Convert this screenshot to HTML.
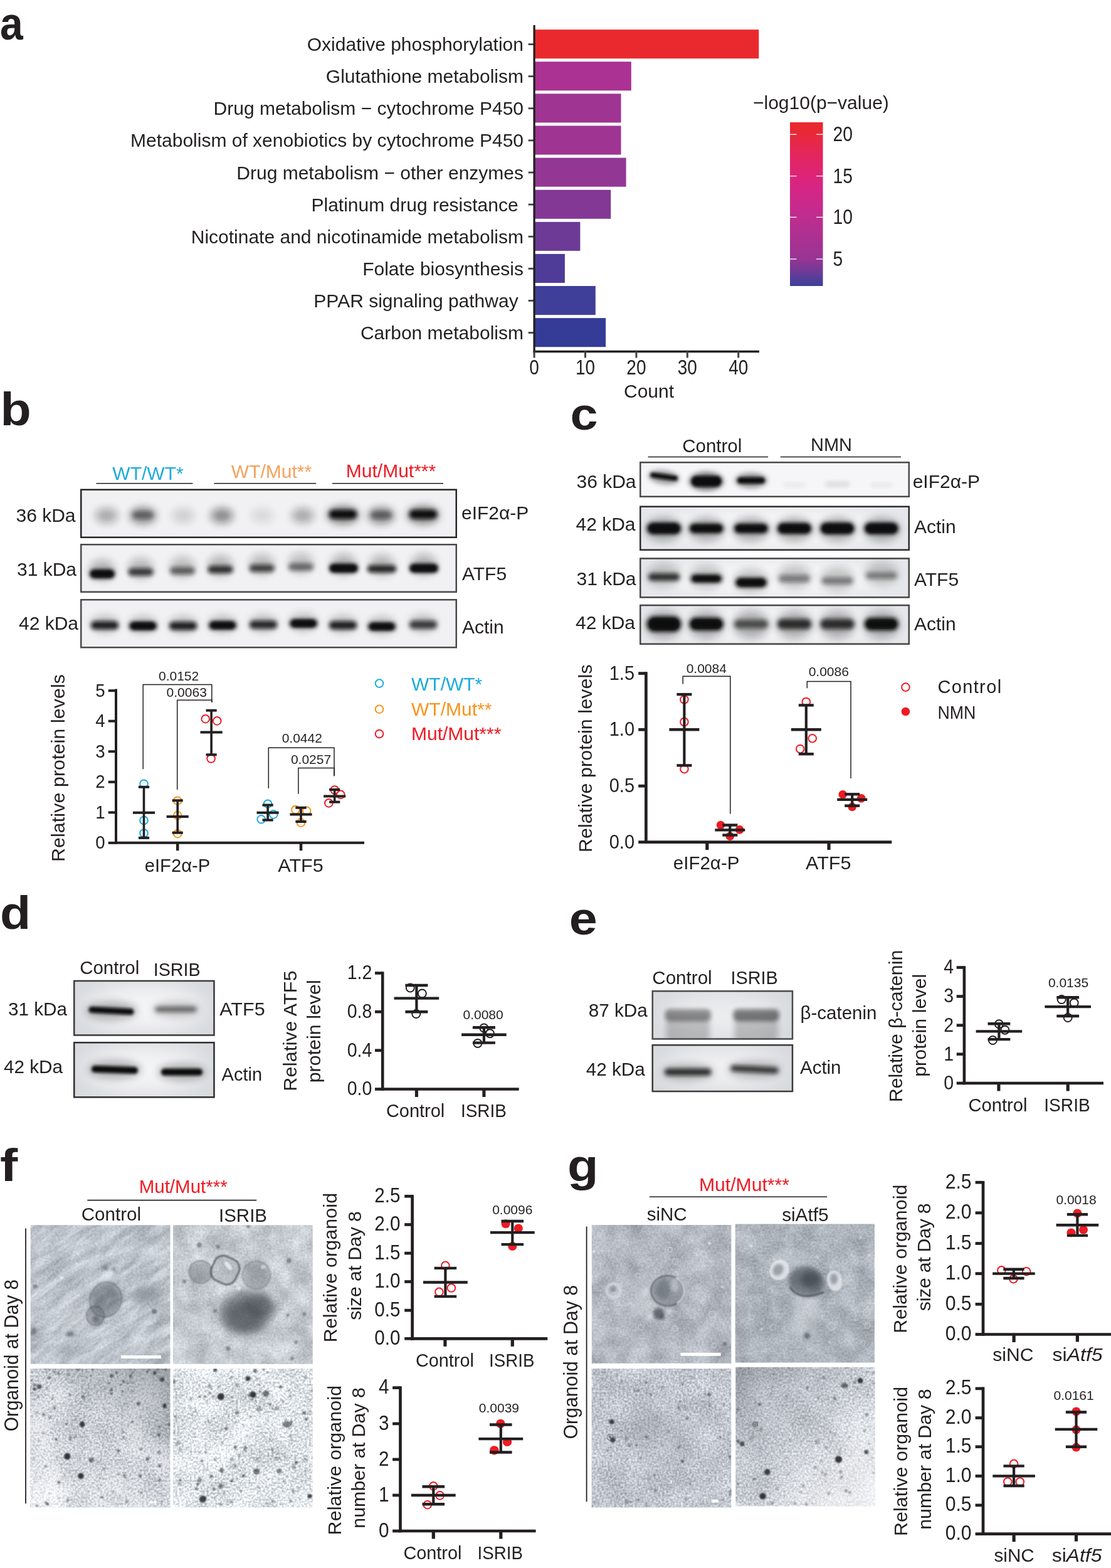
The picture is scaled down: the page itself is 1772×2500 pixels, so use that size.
<!DOCTYPE html>
<html lang="en"><head><meta charset="utf-8"><title>Figure</title>
<style>
html,body{margin:0;padding:0;background:#fff;}
body{width:1772px;height:2500px;overflow:hidden;}
svg{display:block;font-family:"Liberation Sans",sans-serif;fill:#231f20;stroke:#231f20;}
svg text{stroke:none;}
</style></head><body>
<svg width="1772" height="2500" viewBox="0 0 1772 2500">
<defs>
<linearGradient id="cb" x1="0" y1="1" x2="0" y2="0">
<stop offset="0" stop-color="#3a419a"/>
<stop offset="0.06" stop-color="#5d3c98"/>
<stop offset="0.163" stop-color="#973593"/>
<stop offset="0.42" stop-color="#be2d8f"/>
<stop offset="0.6" stop-color="#d62585"/>
<stop offset="0.67" stop-color="#dd2478"/>
<stop offset="0.8" stop-color="#e3265e"/>
<stop offset="0.925" stop-color="#e8283a"/>
<stop offset="1" stop-color="#e9292d"/>
</linearGradient>
<filter id="bl05" x="-5%" y="-20%" width="110%" height="140%"><feGaussianBlur stdDeviation="0.6"/></filter>
<filter id="bl08" x="-50%" y="-50%" width="200%" height="200%"><feGaussianBlur stdDeviation="0.9"/></filter>
<filter id="bl1" x="-50%" y="-50%" width="200%" height="200%"><feGaussianBlur stdDeviation="1.2"/></filter>
<filter id="bl2" x="-50%" y="-80%" width="200%" height="260%"><feGaussianBlur stdDeviation="2.2"/></filter>
<filter id="bl3" x="-50%" y="-80%" width="200%" height="260%"><feGaussianBlur stdDeviation="3.2"/></filter>
<filter id="bl4" x="-50%" y="-80%" width="200%" height="260%"><feGaussianBlur stdDeviation="4.5"/></filter>
<filter id="bl6" x="-60%" y="-100%" width="220%" height="300%"><feGaussianBlur stdDeviation="6.5"/></filter>
<filter id="bl9" x="-80%" y="-100%" width="260%" height="300%"><feGaussianBlur stdDeviation="10"/></filter>
<filter id="bl15" x="-100%" y="-100%" width="300%" height="300%"><feGaussianBlur stdDeviation="16"/></filter>
<linearGradient id="gf3" x1="0.85" y1="0" x2="0.15" y2="1">
<stop offset="0" stop-color="#6a7078" stop-opacity="0.5"/><stop offset="0.45" stop-color="#6f757d" stop-opacity="0.12"/><stop offset="1" stop-color="#ffffff" stop-opacity="0.3"/></linearGradient>
<linearGradient id="gg4" x1="0" y1="0" x2="1" y2="1">
<stop offset="0" stop-color="#50565e" stop-opacity="0.42"/><stop offset="0.45" stop-color="#7f858d" stop-opacity="0.12"/><stop offset="0.6" stop-color="#ffffff" stop-opacity="0.15"/><stop offset="1" stop-color="#ffffff" stop-opacity="0.7"/></linearGradient>
</defs>

<defs><filter id="nzf1" x="0" y="0" width="100%" height="100%" color-interpolation-filters="sRGB"><feTurbulence type="fractalNoise" baseFrequency="0.02 0.08" numOctaves="3" seed="3"/><feColorMatrix type="matrix" values="0.32 0 0 0 0.34 0.32 0 0 0 0.34 0.32 0 0 0 0.34 0 0 0 0 1" result="n0"/><feColorMatrix type="matrix" values="1 0 0 0 0 0 1 0 0 0 0 0 1 0 0 0 0 0 0 1" result="s0"/><feTurbulence type="fractalNoise" baseFrequency="0.3" numOctaves="2" seed="9"/><feColorMatrix type="matrix" values="0.2 0 0 0 0.4 0.2 0 0 0 0.4 0.2 0 0 0 0.4 0 0 0 0 1" result="n1"/><feComposite in="s0" in2="n1" operator="arithmetic" k1="0" k2="1" k3="1" k4="-0.5" result="s1"/><feColorMatrix type="matrix" values="1 0 0 0 0.241 1 0 0 0 0.265 1 0 0 0 0.292 0 0 0 0 1"/></filter><filter id="nzf2" x="0" y="0" width="100%" height="100%" color-interpolation-filters="sRGB"><feTurbulence type="fractalNoise" baseFrequency="0.03" numOctaves="3" seed="8"/><feColorMatrix type="matrix" values="0.28 0 0 0 0.36 0.28 0 0 0 0.36 0.28 0 0 0 0.36 0 0 0 0 1" result="n0"/><feColorMatrix type="matrix" values="1 0 0 0 0 0 1 0 0 0 0 0 1 0 0 0 0 0 0 1" result="s0"/><feTurbulence type="fractalNoise" baseFrequency="0.3" numOctaves="2" seed="14"/><feColorMatrix type="matrix" values="0.2 0 0 0 0.4 0.2 0 0 0 0.4 0.2 0 0 0 0.4 0 0 0 0 1" result="n1"/><feComposite in="s0" in2="n1" operator="arithmetic" k1="0" k2="1" k3="1" k4="-0.5" result="s1"/><feColorMatrix type="matrix" values="1 0 0 0 0.273 1 0 0 0 0.292 1 0 0 0 0.316 0 0 0 0 1"/></filter><filter id="nzf3" x="0" y="0" width="100%" height="100%" color-interpolation-filters="sRGB"><feTurbulence type="fractalNoise" baseFrequency="0.3" numOctaves="2" seed="5"/><feColorMatrix type="matrix" values="0.6 0 0 0 0.2 0.6 0 0 0 0.2 0.6 0 0 0 0.2 0 0 0 0 1" result="n0"/><feColorMatrix type="matrix" values="1 0 0 0 0 0 1 0 0 0 0 0 1 0 0 0 0 0 0 1" result="s0"/><feTurbulence type="fractalNoise" baseFrequency="0.02" numOctaves="2" seed="6"/><feColorMatrix type="matrix" values="0.3 0 0 0 0.35 0.3 0 0 0 0.35 0.3 0 0 0 0.35 0 0 0 0 1" result="n1"/><feComposite in="s0" in2="n1" operator="arithmetic" k1="0" k2="1" k3="1" k4="-0.5" result="s1"/><feColorMatrix type="matrix" values="1 0 0 0 0.378 1 0 0 0 0.394 1 0 0 0 0.414 0 0 0 0 1"/></filter><filter id="nzf4" x="0" y="0" width="100%" height="100%" color-interpolation-filters="sRGB"><feTurbulence type="fractalNoise" baseFrequency="0.3" numOctaves="2" seed="11"/><feColorMatrix type="matrix" values="0.6 0 0 0 0.2 0.6 0 0 0 0.2 0.6 0 0 0 0.2 0 0 0 0 1" result="n0"/><feColorMatrix type="matrix" values="1 0 0 0 0 0 1 0 0 0 0 0 1 0 0 0 0 0 0 1" result="s0"/><feTurbulence type="fractalNoise" baseFrequency="0.02" numOctaves="2" seed="12"/><feColorMatrix type="matrix" values="0.25 0 0 0 0.375 0.25 0 0 0 0.375 0.25 0 0 0 0.375 0 0 0 0 1" result="n1"/><feComposite in="s0" in2="n1" operator="arithmetic" k1="0" k2="1" k3="1" k4="-0.5" result="s1"/><feColorMatrix type="matrix" values="1 0 0 0 0.386 1 0 0 0 0.402 1 0 0 0 0.422 0 0 0 0 1"/></filter><filter id="nzg1" x="0" y="0" width="100%" height="100%" color-interpolation-filters="sRGB"><feTurbulence type="fractalNoise" baseFrequency="0.03" numOctaves="3" seed="21"/><feColorMatrix type="matrix" values="0.25 0 0 0 0.375 0.25 0 0 0 0.375 0.25 0 0 0 0.375 0 0 0 0 1" result="n0"/><feColorMatrix type="matrix" values="1 0 0 0 0 0 1 0 0 0 0 0 1 0 0 0 0 0 0 1" result="s0"/><feTurbulence type="fractalNoise" baseFrequency="0.3" numOctaves="2" seed="22"/><feColorMatrix type="matrix" values="0.2 0 0 0 0.4 0.2 0 0 0 0.4 0.2 0 0 0 0.4 0 0 0 0 1" result="n1"/><feComposite in="s0" in2="n1" operator="arithmetic" k1="0" k2="1" k3="1" k4="-0.5" result="s1"/><feColorMatrix type="matrix" values="1 0 0 0 0.202 1 0 0 0 0.225 1 0 0 0 0.253 0 0 0 0 1"/></filter><filter id="nzg2" x="0" y="0" width="100%" height="100%" color-interpolation-filters="sRGB"><feTurbulence type="fractalNoise" baseFrequency="0.03" numOctaves="3" seed="33"/><feColorMatrix type="matrix" values="0.25 0 0 0 0.375 0.25 0 0 0 0.375 0.25 0 0 0 0.375 0 0 0 0 1" result="n0"/><feColorMatrix type="matrix" values="1 0 0 0 0 0 1 0 0 0 0 0 1 0 0 0 0 0 0 1" result="s0"/><feTurbulence type="fractalNoise" baseFrequency="0.3" numOctaves="2" seed="34"/><feColorMatrix type="matrix" values="0.2 0 0 0 0.4 0.2 0 0 0 0.4 0.2 0 0 0 0.4 0 0 0 0 1" result="n1"/><feComposite in="s0" in2="n1" operator="arithmetic" k1="0" k2="1" k3="1" k4="-0.5" result="s1"/><feColorMatrix type="matrix" values="1 0 0 0 0.178 1 0 0 0 0.202 1 0 0 0 0.233 0 0 0 0 1"/></filter><filter id="nzg3" x="0" y="0" width="100%" height="100%" color-interpolation-filters="sRGB"><feTurbulence type="fractalNoise" baseFrequency="0.3" numOctaves="2" seed="41"/><feColorMatrix type="matrix" values="0.45 0 0 0 0.275 0.45 0 0 0 0.275 0.45 0 0 0 0.275 0 0 0 0 1" result="n0"/><feColorMatrix type="matrix" values="1 0 0 0 0 0 1 0 0 0 0 0 1 0 0 0 0 0 0 1" result="s0"/><feTurbulence type="fractalNoise" baseFrequency="0.02" numOctaves="2" seed="42"/><feColorMatrix type="matrix" values="0.2 0 0 0 0.4 0.2 0 0 0 0.4 0.2 0 0 0 0.4 0 0 0 0 1" result="n1"/><feComposite in="s0" in2="n1" operator="arithmetic" k1="0" k2="1" k3="1" k4="-0.5" result="s1"/><feColorMatrix type="matrix" values="1 0 0 0 0.261 1 0 0 0 0.28 1 0 0 0 0.308 0 0 0 0 1"/></filter><filter id="nzg4" x="0" y="0" width="100%" height="100%" color-interpolation-filters="sRGB"><feTurbulence type="fractalNoise" baseFrequency="0.3" numOctaves="2" seed="47"/><feColorMatrix type="matrix" values="0.5 0 0 0 0.25 0.5 0 0 0 0.25 0.5 0 0 0 0.25 0 0 0 0 1" result="n0"/><feColorMatrix type="matrix" values="1 0 0 0 0 0 1 0 0 0 0 0 1 0 0 0 0 0 0 1" result="s0"/><feTurbulence type="fractalNoise" baseFrequency="0.02" numOctaves="2" seed="48"/><feColorMatrix type="matrix" values="0.2 0 0 0 0.4 0.2 0 0 0 0.4 0.2 0 0 0 0.4 0 0 0 0 1" result="n1"/><feComposite in="s0" in2="n1" operator="arithmetic" k1="0" k2="1" k3="1" k4="-0.5" result="s1"/><feColorMatrix type="matrix" values="1 0 0 0 0.308 1 0 0 0 0.327 1 0 0 0 0.351 0 0 0 0 1"/></filter></defs>
<text transform="translate(0.1 63) scale(0.9 1)" font-size="73.3" font-weight="bold">a</text>
<rect x="852.1" y="47.2" width="358.2" height="46.1" fill="#e9292d" stroke="none"/>
<line x1="842.6" y1="70.6" x2="852.1" y2="70.6" stroke-width="2.8" stroke="#3c4545"/>
<text x="835" y="81.1" font-size="30" text-anchor="end" xml:space="preserve">Oxidative phosphorylation</text>
<rect x="852.1" y="98.3" width="154.7" height="46.1" fill="#ab3192" stroke="none"/>
<line x1="842.6" y1="121.7" x2="852.1" y2="121.7" stroke-width="2.8" stroke="#3c4545"/>
<text x="835" y="132.2" font-size="30" text-anchor="end" xml:space="preserve">Glutathione metabolism</text>
<rect x="852.1" y="149.4" width="138.4" height="46.1" fill="#9f3493" stroke="none"/>
<line x1="842.6" y1="172.8" x2="852.1" y2="172.8" stroke-width="2.8" stroke="#3c4545"/>
<text x="835" y="183.3" font-size="30" text-anchor="end" xml:space="preserve">Drug metabolism − cytochrome P450</text>
<rect x="852.1" y="200.5" width="138.4" height="46.1" fill="#9f3493" stroke="none"/>
<line x1="842.6" y1="223.9" x2="852.1" y2="223.9" stroke-width="2.8" stroke="#3c4545"/>
<text x="835" y="234.4" font-size="30" text-anchor="end" xml:space="preserve">Metabolism of xenobiotics by cytochrome P450</text>
<rect x="852.1" y="251.6" width="146.5" height="46.1" fill="#933794" stroke="none"/>
<line x1="842.6" y1="275.0" x2="852.1" y2="275.0" stroke-width="2.8" stroke="#3c4545"/>
<text x="835" y="285.5" font-size="30" text-anchor="end" xml:space="preserve">Drug metabolism − other enzymes</text>
<rect x="852.1" y="302.7" width="122.1" height="46.1" fill="#833895" stroke="none"/>
<line x1="842.6" y1="326.1" x2="852.1" y2="326.1" stroke-width="2.8" stroke="#3c4545"/>
<text x="835" y="336.6" font-size="30" text-anchor="end" xml:space="preserve">Platinum drug resistance </text>
<rect x="852.1" y="353.8" width="73.3" height="46.1" fill="#6d3a96" stroke="none"/>
<line x1="842.6" y1="377.2" x2="852.1" y2="377.2" stroke-width="2.8" stroke="#3c4545"/>
<text x="835" y="387.7" font-size="30" text-anchor="end" xml:space="preserve">Nicotinate and nicotinamide metabolism</text>
<rect x="852.1" y="404.9" width="48.8" height="46.1" fill="#4e3c98" stroke="none"/>
<line x1="842.6" y1="428.3" x2="852.1" y2="428.3" stroke-width="2.8" stroke="#3c4545"/>
<text x="835" y="438.8" font-size="30" text-anchor="end" xml:space="preserve">Folate biosynthesis</text>
<rect x="852.1" y="456.0" width="97.7" height="46.1" fill="#3f3f99" stroke="none"/>
<line x1="842.6" y1="479.4" x2="852.1" y2="479.4" stroke-width="2.8" stroke="#3c4545"/>
<text x="835" y="489.9" font-size="30" text-anchor="end" xml:space="preserve">PPAR signaling pathway </text>
<rect x="852.1" y="507.1" width="114.0" height="46.1" fill="#343c98" stroke="none"/>
<line x1="842.6" y1="530.5" x2="852.1" y2="530.5" stroke-width="2.8" stroke="#3c4545"/>
<text x="835" y="541.0" font-size="30" text-anchor="end" xml:space="preserve">Carbon metabolism</text>
<line x1="852.1" y1="40" x2="852.1" y2="562" stroke-width="3.3"/>
<line x1="850.5" y1="560.6" x2="1211" y2="560.6" stroke-width="3.5"/>
<line x1="852.1" y1="560" x2="852.1" y2="570.5" stroke-width="3" stroke="#3c4545"/>
<text transform="translate(852.1 597.3) scale(0.86 1)" font-size="32.5" text-anchor="middle">0</text>
<line x1="933.5" y1="560" x2="933.5" y2="570.5" stroke-width="3" stroke="#3c4545"/>
<text transform="translate(933.5 597.3) scale(0.86 1)" font-size="32.5" text-anchor="middle">10</text>
<line x1="1014.9" y1="560" x2="1014.9" y2="570.5" stroke-width="3" stroke="#3c4545"/>
<text transform="translate(1014.9 597.3) scale(0.86 1)" font-size="32.5" text-anchor="middle">20</text>
<line x1="1096.3" y1="560" x2="1096.3" y2="570.5" stroke-width="3" stroke="#3c4545"/>
<text transform="translate(1096.3 597.3) scale(0.86 1)" font-size="32.5" text-anchor="middle">30</text>
<line x1="1177.7" y1="560" x2="1177.7" y2="570.5" stroke-width="3" stroke="#3c4545"/>
<text transform="translate(1177.7 597.3) scale(0.86 1)" font-size="32.5" text-anchor="middle">40</text>
<text x="1035" y="634" font-size="30" text-anchor="middle">Count</text>
<text x="1201" y="174" font-size="30">−log10(p−value)</text>
<rect x="1260" y="195" width="52.5" height="261" fill="url(#cb)" stroke="none"/>
<line x1="1260" y1="214.3" x2="1270.5" y2="214.3" stroke-width="1.3" stroke="#fff"/>
<line x1="1302" y1="214.3" x2="1312.5" y2="214.3" stroke-width="1.3" stroke="#fff"/>
<text transform="translate(1328.5 225.3) scale(0.87 1)" font-size="32.5">20</text>
<line x1="1260" y1="280.7" x2="1270.5" y2="280.7" stroke-width="1.3" stroke="#fff"/>
<line x1="1302" y1="280.7" x2="1312.5" y2="280.7" stroke-width="1.3" stroke="#fff"/>
<text transform="translate(1328.5 291.7) scale(0.87 1)" font-size="32.5">15</text>
<line x1="1260" y1="346.4" x2="1270.5" y2="346.4" stroke-width="1.3" stroke="#fff"/>
<line x1="1302" y1="346.4" x2="1312.5" y2="346.4" stroke-width="1.3" stroke="#fff"/>
<text transform="translate(1328.5 357.4) scale(0.87 1)" font-size="32.5">10</text>
<line x1="1260" y1="413" x2="1270.5" y2="413" stroke-width="1.3" stroke="#fff"/>
<line x1="1302" y1="413" x2="1312.5" y2="413" stroke-width="1.3" stroke="#fff"/>
<text transform="translate(1328.5 424) scale(0.87 1)" font-size="32.5">5</text>
<text transform="translate(0.4 678) scale(1.1 1)" font-size="73.2" font-weight="bold">b</text>
<text x="236" y="764.5" font-size="30" text-anchor="middle" fill="#1cabdc">WT/WT*</text>
<text x="433" y="762" font-size="30" text-anchor="middle" fill="#f4a25c">WT/Mut**</text>
<text x="623.5" y="760.5" font-size="30" text-anchor="middle" fill="#ee1b24">Mut/Mut***</text>
<line x1="153.4" y1="770.8" x2="307.4" y2="770.8" stroke-width="1.6"/>
<line x1="341.4" y1="770.8" x2="504.2" y2="770.8" stroke-width="1.6"/>
<line x1="530" y1="770.8" x2="707" y2="770.8" stroke-width="1.6"/>
<clipPath id="bcb1"><rect x="128" y="779.5" width="601" height="78.5"/></clipPath>
<g clip-path="url(#bcb1)" stroke="none">
<rect x="128" y="779.5" width="601" height="78.5" fill="#f1f1f3"/>

<ellipse cx="170" cy="822" rx="17.9" ry="12.1" fill="#0a0c10" opacity="0.308" filter="url(#bl6)"/>
<ellipse cx="228" cy="822" rx="21.0" ry="13.2" fill="#0a0c10" opacity="0.44999999999999996" filter="url(#bl6)"/>
<rect x="211.0" y="815.0" width="34" height="12" rx="5.7" fill="#0a0c10" opacity="0.36" filter="url(#bl3)"/>
<ellipse cx="292" cy="822" rx="17.9" ry="12.1" fill="#0a0c10" opacity="0.13999999999999999" filter="url(#bl6)"/>
<ellipse cx="354" cy="822" rx="17.9" ry="12.1" fill="#0a0c10" opacity="0.44799999999999995" filter="url(#bl6)"/>
<ellipse cx="418" cy="822" rx="17.9" ry="12.1" fill="#0a0c10" opacity="0.098" filter="url(#bl6)"/>
<ellipse cx="483" cy="822" rx="17.9" ry="12.1" fill="#0a0c10" opacity="0.308" filter="url(#bl6)"/>
<ellipse cx="547" cy="821" rx="25.2" ry="14.3" fill="#0a0c10" opacity="0.5" filter="url(#bl6)"/>
<rect x="525.0" y="813.0" width="44" height="14" rx="6.6" fill="#0a0c10" opacity="1" filter="url(#bl3)"/>
<ellipse cx="608" cy="822" rx="21.0" ry="13.2" fill="#0a0c10" opacity="0.46499999999999997" filter="url(#bl6)"/>
<rect x="591.0" y="815.0" width="34" height="12" rx="5.7" fill="#0a0c10" opacity="0.372" filter="url(#bl3)"/>
<ellipse cx="675" cy="821" rx="25.2" ry="14.3" fill="#0a0c10" opacity="0.5" filter="url(#bl6)"/>
<rect x="653.0" y="813.0" width="44" height="14" rx="6.6" fill="#0a0c10" opacity="1" filter="url(#bl3)"/>
</g>
<rect x="129.25" y="780.75" width="598.5" height="76.0" fill="none" stroke="#262626" stroke-width="2.5" filter="url(#bl05)"/>
<clipPath id="bcb2"><rect x="128" y="867" width="601" height="78"/></clipPath>
<g clip-path="url(#bcb2)" stroke="none">
<rect x="128" y="867" width="601" height="78" fill="#f1f1f3"/>

<ellipse cx="163" cy="909" rx="19.9" ry="16.5" fill="#0a0c10" opacity="0.27" filter="url(#bl6)"/>
<rect x="143.0" y="908.0" width="40" height="14" rx="6.6" fill="#0a0c10" opacity="1.0" filter="url(#bl3)"/>
<rect x="146.0" y="910.5" width="34" height="9" rx="4.3" fill="#0a0c10" opacity="1" filter="url(#bl2)"/>
<ellipse cx="224.5" cy="906" rx="19.9" ry="16.5" fill="#0a0c10" opacity="0.24" filter="url(#bl6)"/>
<rect x="204.5" y="906.0" width="40" height="12" rx="5.7" fill="#0a0c10" opacity="0.75" filter="url(#bl3)"/>
<ellipse cx="291" cy="904" rx="19.9" ry="16.5" fill="#0a0c10" opacity="0.22" filter="url(#bl6)"/>
<rect x="271.0" y="904.0" width="40" height="12" rx="5.7" fill="#0a0c10" opacity="0.55" filter="url(#bl3)"/>
<ellipse cx="351.5" cy="902" rx="19.9" ry="16.5" fill="#0a0c10" opacity="0.25" filter="url(#bl6)"/>
<rect x="331.5" y="902.0" width="40" height="12" rx="5.7" fill="#0a0c10" opacity="0.8" filter="url(#bl3)"/>
<ellipse cx="417.7" cy="900" rx="19.9" ry="16.5" fill="#0a0c10" opacity="0.23" filter="url(#bl6)"/>
<rect x="397.7" y="900.0" width="40" height="12" rx="5.7" fill="#0a0c10" opacity="0.7" filter="url(#bl3)"/>
<ellipse cx="480" cy="898" rx="19.9" ry="16.5" fill="#0a0c10" opacity="0.21" filter="url(#bl6)"/>
<rect x="460.0" y="898.0" width="40" height="12" rx="5.7" fill="#0a0c10" opacity="0.5" filter="url(#bl3)"/>
<ellipse cx="548" cy="900" rx="19.9" ry="16.5" fill="#0a0c10" opacity="0.27" filter="url(#bl6)"/>
<rect x="525.0" y="899.0" width="46" height="14" rx="6.6" fill="#0a0c10" opacity="1.0" filter="url(#bl3)"/>
<rect x="528.0" y="901.5" width="40" height="9" rx="4.3" fill="#0a0c10" opacity="1" filter="url(#bl2)"/>
<ellipse cx="609" cy="901" rx="19.9" ry="16.5" fill="#0a0c10" opacity="0.25" filter="url(#bl6)"/>
<rect x="586.0" y="901.0" width="46" height="12" rx="5.7" fill="#0a0c10" opacity="0.85" filter="url(#bl3)"/>
<ellipse cx="676" cy="900" rx="19.9" ry="16.5" fill="#0a0c10" opacity="0.27" filter="url(#bl6)"/>
<rect x="653.0" y="899.0" width="46" height="14" rx="6.6" fill="#0a0c10" opacity="1.0" filter="url(#bl3)"/>
<rect x="656.0" y="901.5" width="40" height="9" rx="4.3" fill="#0a0c10" opacity="1" filter="url(#bl2)"/>
</g>
<rect x="129.25" y="868.25" width="598.5" height="75.5" fill="none" stroke="#4a4a4a" stroke-width="2.5" filter="url(#bl05)"/>
<clipPath id="bcb3"><rect x="128" y="955" width="601" height="78.5"/></clipPath>
<g clip-path="url(#bcb3)" stroke="none">
<rect x="128" y="955" width="601" height="78.5" fill="#f1f1f3"/>

<ellipse cx="167" cy="995" rx="22.1" ry="14.3" fill="#0a0c10" opacity="0.22" filter="url(#bl6)"/>
<rect x="145.0" y="990.5" width="44" height="13" rx="6.2" fill="#0a0c10" opacity="0.9" filter="url(#bl3)"/>
<ellipse cx="228" cy="996" rx="22.1" ry="14.3" fill="#0a0c10" opacity="0.22" filter="url(#bl6)"/>
<rect x="206.0" y="991.5" width="44" height="13" rx="6.2" fill="#0a0c10" opacity="1.0" filter="url(#bl3)"/>
<rect x="210.0" y="993.5" width="36" height="9" rx="4.3" fill="#0a0c10" opacity="1" filter="url(#bl2)"/>
<ellipse cx="292" cy="996" rx="22.1" ry="14.3" fill="#0a0c10" opacity="0.22" filter="url(#bl6)"/>
<rect x="270.0" y="991.5" width="44" height="13" rx="6.2" fill="#0a0c10" opacity="0.9" filter="url(#bl3)"/>
<ellipse cx="355" cy="995" rx="22.1" ry="14.3" fill="#0a0c10" opacity="0.22" filter="url(#bl6)"/>
<rect x="333.0" y="990.5" width="44" height="13" rx="6.2" fill="#0a0c10" opacity="0.95" filter="url(#bl3)"/>
<rect x="337.0" y="992.5" width="36" height="9" rx="4.3" fill="#0a0c10" opacity="1" filter="url(#bl2)"/>
<ellipse cx="420" cy="994" rx="22.1" ry="14.3" fill="#0a0c10" opacity="0.22" filter="url(#bl6)"/>
<rect x="398.0" y="989.5" width="44" height="13" rx="6.2" fill="#0a0c10" opacity="0.85" filter="url(#bl3)"/>
<ellipse cx="484" cy="992" rx="22.1" ry="14.3" fill="#0a0c10" opacity="0.22" filter="url(#bl6)"/>
<rect x="462.0" y="987.5" width="44" height="13" rx="6.2" fill="#0a0c10" opacity="1.0" filter="url(#bl3)"/>
<rect x="466.0" y="989.5" width="36" height="9" rx="4.3" fill="#0a0c10" opacity="1" filter="url(#bl2)"/>
<ellipse cx="547" cy="995" rx="22.1" ry="14.3" fill="#0a0c10" opacity="0.22" filter="url(#bl6)"/>
<rect x="525.0" y="990.5" width="44" height="13" rx="6.2" fill="#0a0c10" opacity="0.9" filter="url(#bl3)"/>
<ellipse cx="609" cy="997" rx="22.1" ry="14.3" fill="#0a0c10" opacity="0.22" filter="url(#bl6)"/>
<rect x="587.0" y="992.5" width="44" height="13" rx="6.2" fill="#0a0c10" opacity="0.95" filter="url(#bl3)"/>
<rect x="591.0" y="994.5" width="36" height="9" rx="4.3" fill="#0a0c10" opacity="1" filter="url(#bl2)"/>
<ellipse cx="675" cy="994" rx="22.1" ry="14.3" fill="#0a0c10" opacity="0.22" filter="url(#bl6)"/>
<rect x="653.0" y="989.5" width="44" height="13" rx="6.2" fill="#0a0c10" opacity="0.75" filter="url(#bl3)"/>
</g>
<rect x="129.25" y="956.25" width="598.5" height="76.0" fill="none" stroke="#4a4a4a" stroke-width="2.5" filter="url(#bl05)"/>
<text x="25.5" y="832" font-size="30">36 kDa</text>
<text x="27" y="918" font-size="30">31 kDa</text>
<text x="30" y="1004" font-size="30">42 kDa</text>
<text x="736" y="827.5" font-size="30">eIF2α-P</text>
<text x="737" y="924.5" font-size="30">ATF5</text>
<text x="737" y="1009.5" font-size="30">Actin</text>
<text transform="translate(103 1374) rotate(-90)" font-size="30.3" textLength="299" lengthAdjust="spacing">Relative protein levels</text>
<line x1="185" y1="1098.5" x2="185" y2="1345.7" stroke-width="4"/>
<line x1="183.0" y1="1343.7" x2="581" y2="1343.7" stroke-width="4"/>
<line x1="172.7" y1="1343.9" x2="185" y2="1343.9" stroke-width="4"/>
<text transform="translate(167.7 1353.4) scale(0.92 1)" font-size="30" text-anchor="end">0</text>
<line x1="172.7" y1="1295.4" x2="185" y2="1295.4" stroke-width="4"/>
<text transform="translate(167.7 1304.9) scale(0.92 1)" font-size="30" text-anchor="end">1</text>
<line x1="172.7" y1="1246.8" x2="185" y2="1246.8" stroke-width="4"/>
<text transform="translate(167.7 1256.3) scale(0.92 1)" font-size="30" text-anchor="end">2</text>
<line x1="172.7" y1="1198.2" x2="185" y2="1198.2" stroke-width="4"/>
<text transform="translate(167.7 1207.7) scale(0.92 1)" font-size="30" text-anchor="end">3</text>
<line x1="172.7" y1="1149.7" x2="185" y2="1149.7" stroke-width="4"/>
<text transform="translate(167.7 1159.2) scale(0.92 1)" font-size="30" text-anchor="end">4</text>
<line x1="172.7" y1="1101.2" x2="185" y2="1101.2" stroke-width="4"/>
<text transform="translate(167.7 1110.7) scale(0.92 1)" font-size="30" text-anchor="end">5</text>
<line x1="283.2" y1="1343.7" x2="283.2" y2="1356.2" stroke-width="4.5"/>
<text x="283" y="1389.7" font-size="30" text-anchor="middle" textLength="104.5" lengthAdjust="spacingAndGlyphs">eIF2α-P</text>
<line x1="480" y1="1343.7" x2="480" y2="1356.2" stroke-width="4.5"/>
<text x="479.5" y="1389.7" font-size="30" text-anchor="middle" textLength="72.4" lengthAdjust="spacingAndGlyphs">ATF5</text>
<circle cx="229.5" cy="1249.7" r="6.3" fill="none" stroke="#1cabdc" stroke-width="2"/>
<circle cx="229.5" cy="1308" r="6.3" fill="none" stroke="#1cabdc" stroke-width="2"/>
<circle cx="229.5" cy="1328.5" r="6.3" fill="none" stroke="#1cabdc" stroke-width="2"/>
<line x1="229.5" y1="1254.8" x2="229.5" y2="1335.9" stroke-width="3.6"/>
<line x1="220.9" y1="1254.8" x2="238.1" y2="1254.8" stroke-width="4"/>
<line x1="220.9" y1="1335.9" x2="238.1" y2="1335.9" stroke-width="4"/>
<line x1="211.9" y1="1295.7" x2="247.1" y2="1295.7" stroke-width="4"/>
<circle cx="283.2" cy="1276.7" r="6.3" fill="none" stroke="#f7941d" stroke-width="2"/>
<circle cx="283.2" cy="1300.1" r="6.3" fill="none" stroke="#f7941d" stroke-width="2"/>
<circle cx="283.2" cy="1329.2" r="6.3" fill="none" stroke="#f7941d" stroke-width="2"/>
<line x1="283.2" y1="1276.3" x2="283.2" y2="1327.7" stroke-width="3.6"/>
<line x1="274.6" y1="1276.3" x2="291.8" y2="1276.3" stroke-width="4"/>
<line x1="274.6" y1="1327.7" x2="291.8" y2="1327.7" stroke-width="4"/>
<line x1="265.6" y1="1302.1" x2="300.8" y2="1302.1" stroke-width="4"/>
<circle cx="327.7" cy="1146.2" r="6.3" fill="none" stroke="#ee1b24" stroke-width="2"/>
<circle cx="346.2" cy="1149.4" r="6.3" fill="none" stroke="#ee1b24" stroke-width="2"/>
<circle cx="336.6" cy="1209.5" r="6.3" fill="none" stroke="#ee1b24" stroke-width="2"/>
<line x1="337.1" y1="1132.7" x2="337.1" y2="1203.3" stroke-width="3.6"/>
<line x1="328.5" y1="1132.7" x2="345.7" y2="1132.7" stroke-width="4"/>
<line x1="328.5" y1="1203.3" x2="345.7" y2="1203.3" stroke-width="4"/>
<line x1="319.5" y1="1167.6" x2="354.7" y2="1167.6" stroke-width="4"/>
<circle cx="427.1" cy="1281.7" r="6.3" fill="none" stroke="#1cabdc" stroke-width="2"/>
<circle cx="416.7" cy="1306.3" r="6.3" fill="none" stroke="#1cabdc" stroke-width="2"/>
<circle cx="436.2" cy="1298.4" r="6.3" fill="none" stroke="#1cabdc" stroke-width="2"/>
<line x1="427.1" y1="1283.6" x2="427.1" y2="1307.5" stroke-width="3.6"/>
<line x1="418.5" y1="1283.6" x2="435.7" y2="1283.6" stroke-width="4"/>
<line x1="418.5" y1="1307.5" x2="435.7" y2="1307.5" stroke-width="4"/>
<line x1="409.5" y1="1295.7" x2="444.7" y2="1295.7" stroke-width="4"/>
<circle cx="471.4" cy="1291" r="6.3" fill="none" stroke="#f7941d" stroke-width="2"/>
<circle cx="489.2" cy="1292.8" r="6.3" fill="none" stroke="#f7941d" stroke-width="2"/>
<circle cx="480" cy="1311.7" r="6.3" fill="none" stroke="#f7941d" stroke-width="2"/>
<line x1="480" y1="1287.8" x2="480" y2="1310" stroke-width="3.6"/>
<line x1="471.4" y1="1287.8" x2="488.6" y2="1287.8" stroke-width="4"/>
<line x1="471.4" y1="1310" x2="488.6" y2="1310" stroke-width="4"/>
<line x1="462.4" y1="1298.4" x2="497.6" y2="1298.4" stroke-width="4"/>
<circle cx="533.7" cy="1259.5" r="6.3" fill="none" stroke="#ee1b24" stroke-width="2"/>
<circle cx="524.4" cy="1280.4" r="6.3" fill="none" stroke="#ee1b24" stroke-width="2"/>
<circle cx="543.3" cy="1266.9" r="6.3" fill="none" stroke="#ee1b24" stroke-width="2"/>
<line x1="533.7" y1="1259" x2="533.7" y2="1278.7" stroke-width="3.6"/>
<line x1="525.1" y1="1259" x2="542.3" y2="1259" stroke-width="4"/>
<line x1="525.1" y1="1278.7" x2="542.3" y2="1278.7" stroke-width="4"/>
<line x1="516.1" y1="1269.4" x2="551.3" y2="1269.4" stroke-width="4"/>
<path d="M228.2 1226.3V1091.5H337.8V1119.9" fill="none" stroke="#231f20" stroke-width="1.5"/>
<path d="M282.7 1259V1116.2H337.8V1119.9" fill="none" stroke="#231f20" stroke-width="1.5"/>
<text x="285.1" y="1085.1" font-size="21" text-anchor="middle">0.0152</text>
<text x="297.7" y="1111.2" font-size="21" text-anchor="middle">0.0063</text>
<path d="M428.3 1257V1192.3H533V1237.3" fill="none" stroke="#231f20" stroke-width="1.5"/>
<path d="M475.9 1265.7V1224.5H533V1237.3" fill="none" stroke="#231f20" stroke-width="1.5"/>
<text x="481.8" y="1184.4" font-size="21" text-anchor="middle">0.0442</text>
<text x="496" y="1218.4" font-size="21" text-anchor="middle">0.0257</text>
<circle cx="605" cy="1089.6" r="6.3" fill="none" stroke="#1cabdc" stroke-width="2"/>
<circle cx="605" cy="1130.7" r="6.3" fill="none" stroke="#f7941d" stroke-width="2"/>
<circle cx="605" cy="1170.1" r="6.3" fill="none" stroke="#ee1b24" stroke-width="2"/>
<text x="656" y="1100.6" font-size="30" fill="#1cabdc">WT/WT*</text>
<text x="656" y="1140.8" font-size="30" fill="#f7941d">WT/Mut**</text>
<text x="656" y="1180.2" font-size="30" fill="#ee1b24">Mut/Mut***</text>
<text transform="translate(909.5 685.1) scale(1.1 1)" font-size="72" font-weight="bold">c</text>
<text x="1135.8" y="720.6" font-size="30" text-anchor="middle" textLength="95" lengthAdjust="spacingAndGlyphs">Control</text>
<text x="1326" y="719.4" font-size="30" text-anchor="middle" textLength="66" lengthAdjust="spacingAndGlyphs">NMN</text>
<line x1="1033.5" y1="728.5" x2="1225.1" y2="728.5" stroke-width="1.6"/>
<line x1="1244.8" y1="728.5" x2="1437" y2="728.5" stroke-width="1.6"/>
<clipPath id="bcc1"><rect x="1020" y="736" width="431" height="57"/></clipPath>
<g clip-path="url(#bcc1)" stroke="none">
<rect x="1020" y="736" width="431" height="57" fill="#f6f6f8"/>

<ellipse cx="1059" cy="761" rx="24.2" ry="9.9" fill="#0a0c10" opacity="0.45" filter="url(#bl4)" transform="rotate(8 1059 761)"/>
<rect x="1037.0" y="756.0" width="44" height="8" rx="3.8" fill="#0a0c10" opacity="1" filter="url(#bl2)" transform="rotate(8 1059 760)"/>
<ellipse cx="1126.6" cy="767.4" rx="27.3" ry="14.3" fill="#0a0c10" opacity="0.6" filter="url(#bl4)"/>
<rect x="1102.6" y="758.9" width="48" height="17" rx="8.1" fill="#0a0c10" opacity="1" filter="url(#bl2)"/>
<ellipse cx="1198" cy="766" rx="25.2" ry="11.0" fill="#0a0c10" opacity="0.5" filter="url(#bl4)"/>
<rect x="1176.0" y="761.0" width="44" height="10" rx="4.8" fill="#0a0c10" opacity="1" filter="url(#bl2)"/>
<rect x="1249.0" y="769.0" width="36" height="8" rx="3.8" fill="#0a0c10" opacity="0.05" filter="url(#bl3)"/>
<rect x="1315.5" y="767.5" width="40" height="9" rx="4.3" fill="#0a0c10" opacity="0.1" filter="url(#bl3)"/>
<rect x="1387.7" y="769.0" width="36" height="8" rx="3.8" fill="#0a0c10" opacity="0.05" filter="url(#bl3)"/>
</g>
<rect x="1021.25" y="737.25" width="428.5" height="54.5" fill="none" stroke="#4a4a4a" stroke-width="2.5" filter="url(#bl05)"/>
<clipPath id="bcc2"><rect x="1020" y="806.5" width="431" height="71.5"/></clipPath>
<g clip-path="url(#bcc2)" stroke="none">
<rect x="1020" y="806.5" width="431" height="71.5" fill="#e6e7ea"/>
<ellipse cx="1235.5" cy="842.25" rx="193.95000000000002" ry="30.029999999999998" fill="#fff" opacity="0.6" filter="url(#bl9)"/>
<ellipse cx="1059" cy="844" rx="29.4" ry="18.7" fill="#0a0c10" opacity="0.32" filter="url(#bl6)"/>
<rect x="1032.0" y="833.6" width="54" height="18" rx="8.5" fill="#0a0c10" opacity="1" filter="url(#bl3)"/>
<rect x="1036.0" y="836.6" width="46" height="12" rx="5.7" fill="#0a0c10" opacity="1" filter="url(#bl2)"/>
<ellipse cx="1126.6" cy="844" rx="29.4" ry="18.7" fill="#0a0c10" opacity="0.32" filter="url(#bl6)"/>
<rect x="1099.6" y="835.1" width="54" height="15" rx="7.1" fill="#0a0c10" opacity="0.95" filter="url(#bl3)"/>
<rect x="1103.6" y="838.1" width="46" height="9" rx="4.3" fill="#0a0c10" opacity="1" filter="url(#bl2)"/>
<ellipse cx="1198" cy="844" rx="29.4" ry="18.7" fill="#0a0c10" opacity="0.32" filter="url(#bl6)"/>
<rect x="1171.0" y="835.1" width="54" height="15" rx="7.1" fill="#0a0c10" opacity="0.95" filter="url(#bl3)"/>
<rect x="1175.0" y="838.1" width="46" height="9" rx="4.3" fill="#0a0c10" opacity="1" filter="url(#bl2)"/>
<ellipse cx="1267" cy="844" rx="29.4" ry="18.7" fill="#0a0c10" opacity="0.32" filter="url(#bl6)"/>
<rect x="1240.0" y="834.1" width="54" height="17" rx="8.1" fill="#0a0c10" opacity="1" filter="url(#bl3)"/>
<rect x="1244.0" y="837.1" width="46" height="11" rx="5.2" fill="#0a0c10" opacity="1" filter="url(#bl2)"/>
<ellipse cx="1335.5" cy="844" rx="29.4" ry="18.7" fill="#0a0c10" opacity="0.32" filter="url(#bl6)"/>
<rect x="1308.5" y="833.6" width="54" height="18" rx="8.5" fill="#0a0c10" opacity="1" filter="url(#bl3)"/>
<rect x="1312.5" y="836.6" width="46" height="12" rx="5.7" fill="#0a0c10" opacity="1" filter="url(#bl2)"/>
<ellipse cx="1405.7" cy="844" rx="29.4" ry="18.7" fill="#0a0c10" opacity="0.32" filter="url(#bl6)"/>
<rect x="1378.7" y="833.6" width="54" height="18" rx="8.5" fill="#0a0c10" opacity="1" filter="url(#bl3)"/>
<rect x="1382.7" y="836.6" width="46" height="12" rx="5.7" fill="#0a0c10" opacity="1" filter="url(#bl2)"/>
</g>
<rect x="1021.25" y="807.75" width="428.5" height="69.0" fill="none" stroke="#2e2e2e" stroke-width="2.5" filter="url(#bl05)"/>
<clipPath id="bcc3"><rect x="1020" y="889.2" width="431" height="64.4"/></clipPath>
<g clip-path="url(#bcc3)" stroke="none">
<rect x="1020" y="889.2" width="431" height="64.4" fill="#e6e7ea"/>
<ellipse cx="1235.5" cy="921.4000000000001" rx="193.95000000000002" ry="27.048000000000002" fill="#fff" opacity="0.6" filter="url(#bl9)"/>
<ellipse cx="1059" cy="917" rx="27.3" ry="18.7" fill="#0a0c10" opacity="0.2" filter="url(#bl6)"/>
<rect x="1034.0" y="914.0" width="50" height="12" rx="5.7" fill="#0a0c10" opacity="0.8" filter="url(#bl3)"/>
<ellipse cx="1126.6" cy="919.6" rx="27.3" ry="18.7" fill="#0a0c10" opacity="0.2" filter="url(#bl6)"/>
<rect x="1101.6" y="916.1" width="50" height="13" rx="6.2" fill="#0a0c10" opacity="0.95" filter="url(#bl3)"/>
<rect x="1106.6" y="919.1" width="40" height="7" rx="3.3" fill="#0a0c10" opacity="1" filter="url(#bl2)"/>
<ellipse cx="1198" cy="925.8" rx="27.3" ry="18.7" fill="#0a0c10" opacity="0.2" filter="url(#bl6)"/>
<rect x="1173.0" y="921.3" width="50" height="15" rx="7.1" fill="#0a0c10" opacity="1" filter="url(#bl3)"/>
<rect x="1178.0" y="924.3" width="40" height="9" rx="4.3" fill="#0a0c10" opacity="1" filter="url(#bl2)"/>
<ellipse cx="1267" cy="919.6" rx="27.3" ry="18.7" fill="#0a0c10" opacity="0.2" filter="url(#bl6)"/>
<rect x="1242.0" y="916.6" width="50" height="12" rx="5.7" fill="#0a0c10" opacity="0.4" filter="url(#bl3)"/>
<ellipse cx="1335.5" cy="923" rx="27.3" ry="18.7" fill="#0a0c10" opacity="0.2" filter="url(#bl6)"/>
<rect x="1310.5" y="920.5" width="50" height="11" rx="5.2" fill="#0a0c10" opacity="0.42" filter="url(#bl3)"/>
<ellipse cx="1405.7" cy="914.7" rx="27.3" ry="18.7" fill="#0a0c10" opacity="0.2" filter="url(#bl6)"/>
<rect x="1380.7" y="912.2" width="50" height="11" rx="5.2" fill="#0a0c10" opacity="0.4" filter="url(#bl3)"/>
</g>
<rect x="1021.25" y="890.45" width="428.5" height="61.900000000000006" fill="none" stroke="#444" stroke-width="2.5" filter="url(#bl05)"/>
<clipPath id="bcc4"><rect x="1020" y="963.8" width="431" height="64.2"/></clipPath>
<g clip-path="url(#bcc4)" stroke="none">
<rect x="1020" y="963.8" width="431" height="64.2" fill="#e6e7ea"/>
<ellipse cx="1235.5" cy="995.9" rx="193.95000000000002" ry="26.964" fill="#fff" opacity="0.6" filter="url(#bl9)"/>
<ellipse cx="1059" cy="996" rx="29.4" ry="22.0" fill="#0a0c10" opacity="0.3" filter="url(#bl6)"/>
<rect x="1032.0" y="983.0" width="54" height="24" rx="11.4" fill="#0a0c10" opacity="1" filter="url(#bl3)"/>
<rect x="1037.0" y="987.0" width="44" height="16" rx="7.6" fill="#0a0c10" opacity="1" filter="url(#bl2)"/>
<ellipse cx="1126.6" cy="996" rx="29.4" ry="22.0" fill="#0a0c10" opacity="0.3" filter="url(#bl6)"/>
<rect x="1099.6" y="985.0" width="54" height="20" rx="9.5" fill="#0a0c10" opacity="1" filter="url(#bl3)"/>
<rect x="1104.6" y="989.0" width="44" height="12" rx="5.7" fill="#0a0c10" opacity="1" filter="url(#bl2)"/>
<ellipse cx="1198" cy="996" rx="29.4" ry="22.0" fill="#0a0c10" opacity="0.3" filter="url(#bl6)"/>
<rect x="1171.0" y="988.0" width="54" height="14" rx="6.6" fill="#0a0c10" opacity="0.6" filter="url(#bl3)"/>
<ellipse cx="1267" cy="996" rx="29.4" ry="22.0" fill="#0a0c10" opacity="0.3" filter="url(#bl6)"/>
<rect x="1240.0" y="987.0" width="54" height="16" rx="7.6" fill="#0a0c10" opacity="0.8" filter="url(#bl3)"/>
<ellipse cx="1335.5" cy="996" rx="29.4" ry="22.0" fill="#0a0c10" opacity="0.3" filter="url(#bl6)"/>
<rect x="1308.5" y="987.0" width="54" height="16" rx="7.6" fill="#0a0c10" opacity="0.8" filter="url(#bl3)"/>
<ellipse cx="1405.7" cy="996" rx="29.4" ry="22.0" fill="#0a0c10" opacity="0.3" filter="url(#bl6)"/>
<rect x="1378.7" y="985.0" width="54" height="20" rx="9.5" fill="#0a0c10" opacity="0.95" filter="url(#bl3)"/>
<rect x="1383.7" y="989.0" width="44" height="12" rx="5.7" fill="#0a0c10" opacity="1" filter="url(#bl2)"/>
</g>
<rect x="1021.25" y="965.05" width="428.5" height="61.7" fill="none" stroke="#444" stroke-width="2.5" filter="url(#bl05)"/>
<text x="919.5" y="778" font-size="30">36 kDa</text>
<text x="918.5" y="845.5" font-size="30">42 kDa</text>
<text x="919.5" y="932.5" font-size="30">31 kDa</text>
<text x="918" y="1003.4" font-size="30">42 kDa</text>
<text x="1455.7" y="778" font-size="30">eIF2α-P</text>
<text x="1458" y="850" font-size="30">Actin</text>
<text x="1458" y="934.4" font-size="30">ATF5</text>
<text x="1458" y="1005" font-size="30">Actin</text>
<text transform="translate(944.3 1359.1) rotate(-90)" font-size="30.3" textLength="299.7" lengthAdjust="spacing">Relative protein levels</text>
<line x1="1030.4" y1="1071.2" x2="1030.4" y2="1344.9" stroke-width="4.7"/>
<line x1="1028.1" y1="1342.6" x2="1422.3" y2="1342.6" stroke-width="4.7"/>
<line x1="1018.2" y1="1073.6" x2="1030.4" y2="1073.6" stroke-width="4.7"/>
<text transform="translate(1012 1083.6) scale(0.92 1)" font-size="31.5" text-anchor="end">1.5</text>
<line x1="1018.2" y1="1163.3" x2="1030.4" y2="1163.3" stroke-width="4.7"/>
<text transform="translate(1012 1173.3) scale(0.92 1)" font-size="31.5" text-anchor="end">1.0</text>
<line x1="1018.2" y1="1253.2" x2="1030.4" y2="1253.2" stroke-width="4.7"/>
<text transform="translate(1012 1263.2) scale(0.92 1)" font-size="31.5" text-anchor="end">0.5</text>
<line x1="1018.2" y1="1342.6" x2="1030.4" y2="1342.6" stroke-width="4.7"/>
<text transform="translate(1012 1352.6) scale(0.92 1)" font-size="31.5" text-anchor="end">0.0</text>
<line x1="1127.8" y1="1342.6" x2="1127.8" y2="1355.1" stroke-width="5.2"/>
<text x="1126.6" y="1386.2" font-size="30" text-anchor="middle" textLength="105.6" lengthAdjust="spacingAndGlyphs">eIF2α-P</text>
<line x1="1322" y1="1342.6" x2="1322" y2="1355.1" stroke-width="5.2"/>
<text x="1321.3" y="1386.2" font-size="30" text-anchor="middle" textLength="72.4" lengthAdjust="spacingAndGlyphs">ATF5</text>
<circle cx="1091.4" cy="1115.3" r="6.3" fill="none" stroke="#ee1b24" stroke-width="2"/>
<circle cx="1091.4" cy="1151" r="6.3" fill="none" stroke="#ee1b24" stroke-width="2"/>
<circle cx="1091.4" cy="1226.1" r="6.3" fill="none" stroke="#ee1b24" stroke-width="2"/>
<line x1="1091.4" y1="1107.1" x2="1091.4" y2="1220.4" stroke-width="4.2"/>
<line x1="1079.4" y1="1107.1" x2="1103.4" y2="1107.1" stroke-width="4.4"/>
<line x1="1079.4" y1="1220.4" x2="1103.4" y2="1220.4" stroke-width="4.4"/>
<line x1="1067.4" y1="1163.3" x2="1115.4" y2="1163.3" stroke-width="4.4"/>
<circle cx="1149.5" cy="1315.5" r="6.8" fill="#ee1b24" stroke="none"/>
<circle cx="1179.6" cy="1322.9" r="6.8" fill="#ee1b24" stroke="none"/>
<circle cx="1164.3" cy="1333.3" r="6.8" fill="#ee1b24" stroke="none"/>
<line x1="1164.3" y1="1315.5" x2="1164.3" y2="1331.5" stroke-width="4.2"/>
<line x1="1152.3" y1="1315.5" x2="1176.3" y2="1315.5" stroke-width="4.4"/>
<line x1="1152.3" y1="1331.5" x2="1176.3" y2="1331.5" stroke-width="4.4"/>
<line x1="1140.3" y1="1323.4" x2="1188.3" y2="1323.4" stroke-width="4.4"/>
<circle cx="1285.8" cy="1119" r="6.3" fill="none" stroke="#ee1b24" stroke-width="2"/>
<circle cx="1295.7" cy="1177.3" r="6.3" fill="none" stroke="#ee1b24" stroke-width="2"/>
<circle cx="1276.2" cy="1194.1" r="6.3" fill="none" stroke="#ee1b24" stroke-width="2"/>
<line x1="1285.8" y1="1124.4" x2="1285.8" y2="1202.2" stroke-width="4.2"/>
<line x1="1273.8" y1="1124.4" x2="1297.8" y2="1124.4" stroke-width="4.4"/>
<line x1="1273.8" y1="1202.2" x2="1297.8" y2="1202.2" stroke-width="4.4"/>
<line x1="1261.8" y1="1163.3" x2="1309.8" y2="1163.3" stroke-width="4.4"/>
<circle cx="1344.2" cy="1266.7" r="6.8" fill="#ee1b24" stroke="none"/>
<circle cx="1373.7" cy="1272.9" r="6.8" fill="#ee1b24" stroke="none"/>
<circle cx="1359.2" cy="1286.5" r="6.8" fill="#ee1b24" stroke="none"/>
<line x1="1359.2" y1="1266.3" x2="1359.2" y2="1284.7" stroke-width="4.2"/>
<line x1="1347.2" y1="1266.3" x2="1371.2" y2="1266.3" stroke-width="4.4"/>
<line x1="1347.2" y1="1284.7" x2="1371.2" y2="1284.7" stroke-width="4.4"/>
<line x1="1335.2" y1="1274.9" x2="1383.2" y2="1274.9" stroke-width="4.4"/>
<path d="M1089.2 1090.6V1078.3H1164.8V1297.5" fill="none" stroke="#231f20" stroke-width="1.5"/>
<path d="M1287.3 1097.3V1086.5H1357V1240.9" fill="none" stroke="#231f20" stroke-width="1.5"/>
<text x="1126.8" y="1072.7" font-size="21" text-anchor="middle">0.0084</text>
<text x="1321.8" y="1078.3" font-size="21" text-anchor="middle">0.0086</text>
<circle cx="1444.4" cy="1095.6" r="6.3" fill="none" stroke="#ee1b24" stroke-width="2"/>
<circle cx="1444.4" cy="1134.5" r="6.8" fill="#ee1b24" stroke="none"/>
<text x="1495.4" y="1105.4" font-size="29" textLength="101.7" lengthAdjust="spacing">Control</text>
<text x="1495.4" y="1146" font-size="29" textLength="61" lengthAdjust="spacingAndGlyphs">NMN</text>
<text transform="translate(0 1480.5) scale(1.1 1)" font-size="73.2" font-weight="bold">d</text>
<text x="174.7" y="1552.8" font-size="30" text-anchor="middle" textLength="95" lengthAdjust="spacingAndGlyphs">Control</text>
<text x="282.2" y="1555.5" font-size="30" text-anchor="middle" textLength="75" lengthAdjust="spacingAndGlyphs">ISRIB</text>
<clipPath id="bcd1"><rect x="117" y="1562.7" width="225.7" height="89"/></clipPath>
<g clip-path="url(#bcd1)" stroke="none">
<rect x="117" y="1562.7" width="225.7" height="89" fill="#d9dade"/>
<ellipse cx="229.85" cy="1607.2" rx="94.794" ry="37.379999999999995" fill="#fff" opacity="0.7" filter="url(#bl15)"/>
<ellipse cx="177.5" cy="1611.6" rx="41.0" ry="14.3" fill="#0a0c10" opacity="0.3" filter="url(#bl6)"/>
<rect x="141.5" y="1606.6" width="72" height="10" rx="4.8" fill="#0a0c10" opacity="1" filter="url(#bl2)" transform="rotate(3 177.5 1611.6)"/>
<ellipse cx="280.4" cy="1609.2" rx="36.8" ry="12.1" fill="#0a0c10" opacity="0.2" filter="url(#bl6)"/>
<rect x="247.4" y="1604.7" width="66" height="9" rx="4.3" fill="#0a0c10" opacity="0.5" filter="url(#bl3)"/>
</g>
<rect x="118.25" y="1563.95" width="223.2" height="86.5" fill="none" stroke="#3a3a3a" stroke-width="2.5" filter="url(#bl05)"/>
<clipPath id="bcd2"><rect x="117" y="1661" width="225.7" height="89.6"/></clipPath>
<g clip-path="url(#bcd2)" stroke="none">
<rect x="117" y="1661" width="225.7" height="89.6" fill="#d9dade"/>
<ellipse cx="229.85" cy="1705.8" rx="94.794" ry="37.632" fill="#fff" opacity="0.7" filter="url(#bl15)"/>
<ellipse cx="182.9" cy="1705.4" rx="42.0" ry="14.3" fill="#0a0c10" opacity="0.3" filter="url(#bl6)"/>
<rect x="145.9" y="1699.9" width="74" height="11" rx="5.2" fill="#0a0c10" opacity="1" filter="url(#bl2)" transform="rotate(2 182.9 1705.4)"/>
<ellipse cx="290" cy="1709.2" rx="37.8" ry="13.2" fill="#0a0c10" opacity="0.3" filter="url(#bl6)"/>
<rect x="257.0" y="1703.7" width="66" height="11" rx="5.2" fill="#0a0c10" opacity="1" filter="url(#bl2)"/>
</g>
<rect x="118.25" y="1662.25" width="223.2" height="87.1" fill="none" stroke="#2e2e2e" stroke-width="2.5" filter="url(#bl05)"/>
<text x="13" y="1618.7" font-size="30" textLength="94" lengthAdjust="spacingAndGlyphs">31 kDa</text>
<text x="6" y="1711.3" font-size="30" textLength="94" lengthAdjust="spacingAndGlyphs">42 kDa</text>
<text x="350.3" y="1618.7" font-size="30" textLength="72.3" lengthAdjust="spacingAndGlyphs">ATF5</text>
<text x="353.6" y="1722.7" font-size="30" textLength="64.4" lengthAdjust="spacingAndGlyphs">Actin</text>
<text transform="translate(473.3 1643.6) rotate(-90)" font-size="30.3" text-anchor="middle" textLength="192.4" lengthAdjust="spacing">Relative ATF5</text>
<text transform="translate(511.3 1644.3) rotate(-90)" font-size="30.3" text-anchor="middle" textLength="164" lengthAdjust="spacing">protein level</text>
<line x1="610.2" y1="1549.3" x2="610.2" y2="1738.8" stroke-width="4.6"/>
<line x1="607.9" y1="1736.5" x2="827.7" y2="1736.5" stroke-width="4.6"/>
<line x1="598.0" y1="1551.5" x2="610.2" y2="1551.5" stroke-width="4.6"/>
<text transform="translate(593.4 1561.3) scale(0.92 1)" font-size="31" text-anchor="end">1.2</text>
<line x1="598.0" y1="1613.2" x2="610.2" y2="1613.2" stroke-width="4.6"/>
<text transform="translate(593.4 1623.0) scale(0.92 1)" font-size="31" text-anchor="end">0.8</text>
<line x1="598.0" y1="1674.7" x2="610.2" y2="1674.7" stroke-width="4.6"/>
<text transform="translate(593.4 1684.5) scale(0.92 1)" font-size="31" text-anchor="end">0.4</text>
<line x1="598.0" y1="1736.5" x2="610.2" y2="1736.5" stroke-width="4.6"/>
<text transform="translate(593.4 1746.3) scale(0.92 1)" font-size="31" text-anchor="end">0.0</text>
<line x1="664.4" y1="1736.5" x2="664.4" y2="1749.0" stroke-width="5.1"/>
<text x="662.6" y="1781.1" font-size="30" text-anchor="middle" textLength="93.4" lengthAdjust="spacingAndGlyphs">Control</text>
<line x1="771.9" y1="1736.5" x2="771.9" y2="1749.0" stroke-width="5.1"/>
<text x="771.4" y="1781.1" font-size="30" text-anchor="middle" textLength="73.0" lengthAdjust="spacingAndGlyphs">ISRIB</text>
<circle cx="654.3" cy="1575" r="6.5" fill="none" stroke="#231f20" stroke-width="2"/>
<circle cx="673.3" cy="1584" r="6.5" fill="none" stroke="#231f20" stroke-width="2"/>
<circle cx="663.8" cy="1616.5" r="6.5" fill="none" stroke="#231f20" stroke-width="2"/>
<line x1="664.4" y1="1571" x2="664.4" y2="1613.2" stroke-width="4.2"/>
<line x1="646.4" y1="1571" x2="682.4" y2="1571" stroke-width="4.4"/>
<line x1="646.4" y1="1613.2" x2="682.4" y2="1613.2" stroke-width="4.4"/>
<line x1="628.6" y1="1591.6" x2="700.2" y2="1591.6" stroke-width="4.4"/>
<circle cx="771.9" cy="1639" r="6.5" fill="none" stroke="#231f20" stroke-width="2"/>
<circle cx="781.4" cy="1647.7" r="6.5" fill="none" stroke="#231f20" stroke-width="2"/>
<circle cx="761.9" cy="1663.4" r="6.5" fill="none" stroke="#231f20" stroke-width="2"/>
<line x1="771.9" y1="1638.2" x2="771.9" y2="1662.6" stroke-width="4.2"/>
<line x1="753.9" y1="1638.2" x2="789.9" y2="1638.2" stroke-width="4.4"/>
<line x1="753.9" y1="1662.6" x2="789.9" y2="1662.6" stroke-width="4.4"/>
<line x1="736.1" y1="1649.8" x2="807.7" y2="1649.8" stroke-width="4.4"/>
<text x="770.6" y="1625.4" font-size="21" text-anchor="middle">0.0080</text>
<text transform="translate(907.8 1490) scale(1.1 1)" font-size="73.5" font-weight="bold">e</text>
<text x="1088" y="1569.1" font-size="30" text-anchor="middle" textLength="95.4" lengthAdjust="spacingAndGlyphs">Control</text>
<text x="1203.2" y="1569.1" font-size="30" text-anchor="middle" textLength="75.3" lengthAdjust="spacingAndGlyphs">ISRIB</text>
<clipPath id="bce1"><rect x="1039.5" y="1579" width="225.7" height="78.7"/></clipPath>
<g clip-path="url(#bce1)" stroke="none">
<rect x="1039.5" y="1579" width="225.7" height="78.7" fill="#d9dade"/>
<ellipse cx="1152.35" cy="1618.35" rx="94.794" ry="33.054" fill="#fff" opacity="0.5" filter="url(#bl15)"/>
<rect x="1062.2" y="1622" width="70" height="40" rx="8" fill="#0a0c10" opacity="0.2" filter="url(#bl4)"/>
<rect x="1060.2" y="1609" width="74" height="19" rx="8" fill="#0a0c10" opacity="0.42" filter="url(#bl3)"/>
<rect x="1171.2" y="1622" width="70" height="40" rx="8" fill="#0a0c10" opacity="0.2" filter="url(#bl4)"/>
<rect x="1169.2" y="1609" width="74" height="19" rx="8" fill="#0a0c10" opacity="0.5" filter="url(#bl3)"/>
</g>
<rect x="1040.75" y="1580.25" width="223.2" height="76.2" fill="none" stroke="#4a4a4a" stroke-width="2.5" filter="url(#bl05)"/>
<clipPath id="bce2"><rect x="1039.5" y="1665" width="225.7" height="76.3"/></clipPath>
<g clip-path="url(#bce2)" stroke="none">
<rect x="1039.5" y="1665" width="225.7" height="76.3" fill="#d9dade"/>
<ellipse cx="1152.35" cy="1703.15" rx="94.794" ry="32.046" fill="#fff" opacity="0.6" filter="url(#bl15)"/>
<ellipse cx="1097.2" cy="1709.2" rx="41.0" ry="13.2" fill="#0a0c10" opacity="0.25" filter="url(#bl6)"/>
<rect x="1060.2" y="1703.7" width="74" height="11" rx="5.2" fill="#0a0c10" opacity="0.8" filter="url(#bl3)"/>
<ellipse cx="1203.4" cy="1705.1" rx="42.0" ry="13.2" fill="#0a0c10" opacity="0.25" filter="url(#bl6)"/>
<rect x="1165.4" y="1700.1" width="76" height="10" rx="4.8" fill="#0a0c10" opacity="0.75" filter="url(#bl3)" transform="rotate(3 1203.4 1705.1)"/>
</g>
<rect x="1040.75" y="1666.25" width="223.2" height="73.8" fill="none" stroke="#3a3a3a" stroke-width="2.5" filter="url(#bl05)"/>
<text x="938.7" y="1621.4" font-size="30" textLength="94" lengthAdjust="spacingAndGlyphs">87 kDa</text>
<text x="934.7" y="1714.6" font-size="30" textLength="94" lengthAdjust="spacingAndGlyphs">42 kDa</text>
<text x="1276.6" y="1625.2" font-size="30" textLength="121.8" lengthAdjust="spacingAndGlyphs">β-catenin</text>
<text x="1276" y="1711.9" font-size="30" textLength="65.5" lengthAdjust="spacingAndGlyphs">Actin</text>
<text transform="translate(1439 1636) rotate(-90)" font-size="30.3" text-anchor="middle" textLength="242.5" lengthAdjust="spacing">Relative β-catenin</text>
<text transform="translate(1477 1634.8) rotate(-90)" font-size="30.3" text-anchor="middle" textLength="164" lengthAdjust="spacing">protein level</text>
<line x1="1537.9" y1="1540.2" x2="1537.9" y2="1729.3" stroke-width="4.6"/>
<line x1="1535.6" y1="1727" x2="1760" y2="1727" stroke-width="4.6"/>
<line x1="1525.7" y1="1542.5" x2="1537.9" y2="1542.5" stroke-width="4.6"/>
<text transform="translate(1521 1552.3) scale(0.92 1)" font-size="31" text-anchor="end">4</text>
<line x1="1525.7" y1="1588.6" x2="1537.9" y2="1588.6" stroke-width="4.6"/>
<text transform="translate(1521 1598.4) scale(0.92 1)" font-size="31" text-anchor="end">3</text>
<line x1="1525.7" y1="1634.7" x2="1537.9" y2="1634.7" stroke-width="4.6"/>
<text transform="translate(1521 1644.5) scale(0.92 1)" font-size="31" text-anchor="end">2</text>
<line x1="1525.7" y1="1680.7" x2="1537.9" y2="1680.7" stroke-width="4.6"/>
<text transform="translate(1521 1690.5) scale(0.92 1)" font-size="31" text-anchor="end">1</text>
<line x1="1525.7" y1="1727" x2="1537.9" y2="1727" stroke-width="4.6"/>
<text transform="translate(1521 1736.8) scale(0.92 1)" font-size="31" text-anchor="end">0</text>
<line x1="1592.9" y1="1727" x2="1592.9" y2="1739.5" stroke-width="5.1"/>
<text x="1591.4" y="1771.6" font-size="30" text-anchor="middle" textLength="94.0" lengthAdjust="spacingAndGlyphs">Control</text>
<line x1="1703.2" y1="1727" x2="1703.2" y2="1739.5" stroke-width="5.1"/>
<text x="1702" y="1771.6" font-size="30" text-anchor="middle" textLength="73.5" lengthAdjust="spacingAndGlyphs">ISRIB</text>
<circle cx="1593.4" cy="1632.8" r="6.5" fill="none" stroke="#231f20" stroke-width="2"/>
<circle cx="1602.9" cy="1642.2" r="6.5" fill="none" stroke="#231f20" stroke-width="2"/>
<circle cx="1583.4" cy="1658.5" r="6.5" fill="none" stroke="#231f20" stroke-width="2"/>
<line x1="1593.4" y1="1632.2" x2="1593.4" y2="1657.1" stroke-width="4.2"/>
<line x1="1575.5" y1="1632.2" x2="1611.3" y2="1632.2" stroke-width="4.4"/>
<line x1="1575.5" y1="1657.1" x2="1611.3" y2="1657.1" stroke-width="4.4"/>
<line x1="1556.6" y1="1644.4" x2="1630.2" y2="1644.4" stroke-width="4.4"/>
<circle cx="1693.2" cy="1593.5" r="6.5" fill="none" stroke="#231f20" stroke-width="2"/>
<circle cx="1713.2" cy="1598.9" r="6.5" fill="none" stroke="#231f20" stroke-width="2"/>
<circle cx="1703.2" cy="1622.5" r="6.5" fill="none" stroke="#231f20" stroke-width="2"/>
<line x1="1703.2" y1="1590.2" x2="1703.2" y2="1620" stroke-width="4.2"/>
<line x1="1685.3" y1="1590.2" x2="1721.1" y2="1590.2" stroke-width="4.4"/>
<line x1="1685.3" y1="1620" x2="1721.1" y2="1620" stroke-width="4.4"/>
<line x1="1666.4" y1="1605.1" x2="1740.0" y2="1605.1" stroke-width="4.4"/>
<text x="1704" y="1573.7" font-size="21" text-anchor="middle">0.0135</text>
<text transform="translate(0 1882.5) scale(1.17 1)" font-size="72.5" font-weight="bold">f</text>
<text x="292.2" y="1902.4" font-size="30" text-anchor="middle" fill="#ee1b24" textLength="141" lengthAdjust="spacingAndGlyphs">Mut/Mut***</text>
<line x1="139.3" y1="1913.6" x2="409.2" y2="1913.6" stroke-width="1.6"/>
<text x="177.4" y="1945.7" font-size="30" text-anchor="middle" textLength="95.4" lengthAdjust="spacingAndGlyphs">Control</text>
<text x="387.5" y="1948.2" font-size="30" text-anchor="middle" textLength="77" lengthAdjust="spacingAndGlyphs">ISRIB</text>
<line x1="41" y1="1958.4" x2="41" y2="2397.2" stroke-width="1.8"/>
<text transform="translate(29.4 2282.3) rotate(-90)" font-size="32" textLength="242.5" lengthAdjust="spacingAndGlyphs">Organoid at Day 8</text>
<clipPath id="mcf1"><rect x="48.7" y="1953.2" width="222.8" height="221.6"/></clipPath>
<g clip-path="url(#mcf1)" stroke="none">
<rect x="-7.0" y="1897.8" width="334.20000000000005" height="332.4" filter="url(#nzf1)" transform="rotate(-35 160.10000000000002 2064.0)"/>
<ellipse cx="235" cy="2065" rx="24" ry="16" fill="#6f757c" opacity="0.3" filter="url(#bl6)"/><ellipse cx="120" cy="2100" rx="30" ry="20" fill="#ffffff" opacity="0.18" filter="url(#bl9)"/><ellipse cx="168.6" cy="2072" rx="25" ry="28" fill="#5f656c" opacity="0.5" filter="url(#bl3)" transform="rotate(20 168.6 2072)"/><ellipse cx="152" cy="2098" rx="14" ry="15" fill="#5a6067" opacity="0.42" filter="url(#bl2)"/><ellipse cx="168.6" cy="2072" rx="25" ry="28" fill="none" opacity="0.6" stroke="#454b51" stroke-width="1.3" filter="url(#bl1)" transform="rotate(20 168.6 2072)"/><ellipse cx="152" cy="2098" rx="14" ry="15" fill="none" opacity="0.65" stroke="#454b51" stroke-width="1.3" filter="url(#bl1)"/><ellipse cx="160" cy="2075" rx="8" ry="12" fill="#454b51" opacity="0.25" filter="url(#bl2)" transform="rotate(30 160 2075)"/><ellipse cx="176" cy="2062" rx="9" ry="8" fill="#454b51" opacity="0.22" filter="url(#bl2)"/><ellipse cx="153" cy="2103" rx="5" ry="5" fill="#3d4248" opacity="0.5" filter="url(#bl2)"/><ellipse cx="173" cy="2034" rx="10" ry="9" fill="#e3e6ea" opacity="0.5" filter="url(#bl3)"/><ellipse cx="168" cy="2022" rx="5" ry="4" fill="#5a6067" opacity="0.55" filter="url(#bl2)"/><ellipse cx="182" cy="2024" rx="4" ry="4" fill="#5a6067" opacity="0.5" filter="url(#bl2)"/><ellipse cx="112" cy="2127" rx="7" ry="4" fill="#4d5359" opacity="0.65" filter="url(#bl2)"/><ellipse cx="54" cy="2122" rx="5" ry="6" fill="#4d5359" opacity="0.55" filter="url(#bl2)"/><ellipse cx="246" cy="2091" rx="4" ry="4" fill="#545a60" opacity="0.65" filter="url(#bl1)"/><ellipse cx="56" cy="2051" rx="4" ry="3" fill="#5a6067" opacity="0.55" filter="url(#bl1)"/><ellipse cx="98" cy="2037" rx="3" ry="3" fill="#eef0f2" opacity="0.7" filter="url(#bl1)"/><ellipse cx="244" cy="1998" rx="4" ry="4" fill="#dfe2e6" opacity="0.6" filter="url(#bl2)"/><rect x="193" y="2161" width="64" height="5" fill="#fff"/>
</g>
<clipPath id="mcf2"><rect x="276" y="1953.2" width="222.8" height="221.6"/></clipPath>
<g clip-path="url(#mcf2)" stroke="none">
<rect x="276" y="1953.2" width="222.8" height="221.6" filter="url(#nzf2)"/>
<ellipse cx="394" cy="2092" rx="45" ry="36" fill="#3e4247" opacity="0.45" filter="url(#bl6)" transform="rotate(-15 394 2092)"/><ellipse cx="390" cy="2098" rx="30" ry="25" fill="#33373c" opacity="0.42" filter="url(#bl6)"/><ellipse cx="412" cy="2082" rx="22" ry="18" fill="#33373c" opacity="0.3" filter="url(#bl4)"/><ellipse cx="320" cy="2028" rx="18" ry="18" fill="#6e747b" opacity="0.4" filter="url(#bl2)"/><ellipse cx="320" cy="2028" rx="18" ry="18" fill="none" opacity="0.55" stroke="#4a5056" stroke-width="1.3" filter="url(#bl1)"/><ellipse cx="409" cy="2033" rx="22" ry="22" fill="#6e747b" opacity="0.4" filter="url(#bl3)"/><ellipse cx="409" cy="2033" rx="22" ry="22" fill="none" opacity="0.45" stroke="#4a5056" stroke-width="1.3" filter="url(#bl1)"/><rect x="338" y="2004" width="42" height="42" rx="15" fill="#8e949b" fill-opacity="0.35" stroke="#454b51" stroke-width="2.6" opacity="0.85" filter="url(#bl1)" transform="rotate(25 359 2025)"/><ellipse cx="364" cy="2018" rx="9" ry="3.5" fill="#f2f3f5" opacity="0.8" filter="url(#bl1)" transform="rotate(50 364 2018)"/><ellipse cx="381" cy="2054" rx="3" ry="3" fill="#f2f3f5" opacity="0.8" filter="url(#bl1)"/><ellipse cx="420" cy="2020" rx="4" ry="3" fill="#e8eaed" opacity="0.6" filter="url(#bl1)"/><ellipse cx="461" cy="2010" rx="4" ry="4" fill="#5a6067" opacity="0.6" filter="url(#bl1)"/><ellipse cx="348" cy="1988" rx="3" ry="3" fill="#5a6067" opacity="0.6" filter="url(#bl1)"/><ellipse cx="294" cy="2043" rx="3" ry="3" fill="#5a6067" opacity="0.6" filter="url(#bl1)"/><ellipse cx="343" cy="2090" rx="3" ry="3" fill="#5a6067" opacity="0.6" filter="url(#bl1)"/><ellipse cx="364" cy="2150" rx="3.5" ry="3.5" fill="#5a6067" opacity="0.6" filter="url(#bl1)"/><ellipse cx="466" cy="2166" rx="3" ry="3" fill="#5a6067" opacity="0.6" filter="url(#bl1)"/><ellipse cx="485" cy="2095" rx="3" ry="3" fill="#5a6067" opacity="0.6" filter="url(#bl1)"/><ellipse cx="459" cy="2097" rx="2.5" ry="2.5" fill="#5a6067" opacity="0.6" filter="url(#bl1)"/><ellipse cx="396" cy="1955" rx="3" ry="3" fill="#5a6067" opacity="0.6" filter="url(#bl1)"/><ellipse cx="318" cy="1985" rx="4" ry="4" fill="#5a6067" opacity="0.6" filter="url(#bl1)"/><ellipse cx="472" cy="2140" rx="3" ry="3" fill="#5a6067" opacity="0.6" filter="url(#bl1)"/>
</g>
<clipPath id="mcf3"><rect x="48" y="2182" width="223.5" height="221.6"/></clipPath>
<g clip-path="url(#mcf3)" stroke="none">
<rect x="48" y="2182" width="223.5" height="221.6" filter="url(#nzf3)"/>
<rect x="48" y="2182" width="224" height="222" fill="url(#gf3)"/><g filter="url(#bl08)"><circle cx="177.9" cy="2193.7" r="2.9" fill="#2c3035" opacity="0.67"/><circle cx="152.4" cy="2287.9" r="1.2" fill="#2c3035" opacity="0.39"/><circle cx="112.5" cy="2296.4" r="1.2" fill="#2c3035" opacity="0.69"/><circle cx="63.7" cy="2193.5" r="1.1" fill="#2c3035" opacity="0.61"/><circle cx="129.9" cy="2239.3" r="1.3" fill="#2c3035" opacity="0.55"/><circle cx="138.3" cy="2195.2" r="1.5" fill="#2c3035" opacity="0.42"/><circle cx="72.8" cy="2338.2" r="2.0" fill="#2c3035" opacity="0.57"/><circle cx="245.2" cy="2223.6" r="1.4" fill="#2c3035" opacity="0.47"/><circle cx="138.4" cy="2289.5" r="1.1" fill="#2c3035" opacity="0.49"/><circle cx="167.6" cy="2214.7" r="1.1" fill="#2c3035" opacity="0.58"/><circle cx="50.1" cy="2261.1" r="1.1" fill="#2c3035" opacity="0.31"/><circle cx="88.4" cy="2183.7" r="1.1" fill="#2c3035" opacity="0.57"/><circle cx="210.8" cy="2217.7" r="1.9" fill="#2c3035" opacity="0.49"/><circle cx="159.4" cy="2356.6" r="1.3" fill="#2c3035" opacity="0.65"/><circle cx="202.5" cy="2293.7" r="1.1" fill="#2c3035" opacity="0.33"/><circle cx="55.2" cy="2214.8" r="2.8" fill="#2c3035" opacity="0.65"/><circle cx="235.4" cy="2186.8" r="2.0" fill="#2c3035" opacity="0.61"/><circle cx="228.9" cy="2327.7" r="1.1" fill="#2c3035" opacity="0.37"/><circle cx="225.1" cy="2310.3" r="2.6" fill="#2c3035" opacity="0.48"/><circle cx="246.8" cy="2188.4" r="2.8" fill="#2c3035" opacity="0.65"/><circle cx="123.4" cy="2183.7" r="1.7" fill="#2c3035" opacity="0.58"/><circle cx="126.3" cy="2183.3" r="1.2" fill="#2c3035" opacity="0.63"/><circle cx="68.3" cy="2379.2" r="1.2" fill="#2c3035" opacity="0.38"/><circle cx="73.1" cy="2396.1" r="2.6" fill="#2c3035" opacity="0.43"/><circle cx="69.4" cy="2285.0" r="2.6" fill="#2c3035" opacity="0.30"/><circle cx="189.5" cy="2349.8" r="1.5" fill="#2c3035" opacity="0.53"/><circle cx="227.8" cy="2198.8" r="1.2" fill="#2c3035" opacity="0.56"/><circle cx="171.4" cy="2254.0" r="1.3" fill="#2c3035" opacity="0.67"/><circle cx="112.4" cy="2292.4" r="2.6" fill="#2c3035" opacity="0.46"/><circle cx="60.1" cy="2196.6" r="1.1" fill="#2c3035" opacity="0.36"/><circle cx="74.9" cy="2214.2" r="1.4" fill="#2c3035" opacity="0.48"/><circle cx="196.6" cy="2291.7" r="2.0" fill="#2c3035" opacity="0.45"/><circle cx="196.1" cy="2257.5" r="1.1" fill="#2c3035" opacity="0.52"/><circle cx="119.2" cy="2291.5" r="2.1" fill="#2c3035" opacity="0.40"/><circle cx="145.3" cy="2235.7" r="1.3" fill="#2c3035" opacity="0.32"/><circle cx="59.1" cy="2400.7" r="2.1" fill="#2c3035" opacity="0.48"/><circle cx="197.0" cy="2202.8" r="2.1" fill="#2c3035" opacity="0.68"/><circle cx="220.8" cy="2237.9" r="2.9" fill="#2c3035" opacity="0.67"/><circle cx="61.0" cy="2226.9" r="1.5" fill="#2c3035" opacity="0.41"/><circle cx="185.8" cy="2188.7" r="2.2" fill="#2c3035" opacity="0.64"/><circle cx="61.8" cy="2296.3" r="1.2" fill="#2c3035" opacity="0.56"/><circle cx="202.5" cy="2394.4" r="2.3" fill="#2c3035" opacity="0.44"/><circle cx="211.2" cy="2189.0" r="2.1" fill="#2c3035" opacity="0.47"/><circle cx="107.3" cy="2198.8" r="1.2" fill="#2c3035" opacity="0.62"/><circle cx="69.5" cy="2198.0" r="1.2" fill="#2c3035" opacity="0.36"/><circle cx="211.2" cy="2267.0" r="1.9" fill="#2c3035" opacity="0.66"/><circle cx="148.3" cy="2182.6" r="1.2" fill="#2c3035" opacity="0.51"/><circle cx="207.9" cy="2372.2" r="1.6" fill="#2c3035" opacity="0.39"/><circle cx="180.5" cy="2378.3" r="1.3" fill="#2c3035" opacity="0.67"/><circle cx="250.0" cy="2264.3" r="1.5" fill="#2c3035" opacity="0.35"/><circle cx="72.7" cy="2182.7" r="1.8" fill="#2c3035" opacity="0.59"/><circle cx="270.0" cy="2271.0" r="3.0" fill="#2c3035" opacity="0.46"/><circle cx="77.9" cy="2183.4" r="1.3" fill="#2c3035" opacity="0.51"/><circle cx="268.4" cy="2207.0" r="1.2" fill="#2c3035" opacity="0.59"/><circle cx="134.8" cy="2259.6" r="1.1" fill="#2c3035" opacity="0.64"/><circle cx="253.5" cy="2315.7" r="2.8" fill="#2c3035" opacity="0.43"/><circle cx="55.2" cy="2208.1" r="2.6" fill="#2c3035" opacity="0.49"/><circle cx="92.8" cy="2189.4" r="1.2" fill="#2c3035" opacity="0.48"/><circle cx="254.9" cy="2359.5" r="2.2" fill="#2c3035" opacity="0.60"/><circle cx="90.7" cy="2322.9" r="1.2" fill="#2c3035" opacity="0.51"/><circle cx="55.5" cy="2362.5" r="1.1" fill="#2c3035" opacity="0.54"/><circle cx="196.0" cy="2282.4" r="2.0" fill="#2c3035" opacity="0.45"/><circle cx="225.1" cy="2379.7" r="1.8" fill="#2c3035" opacity="0.69"/><circle cx="237.9" cy="2183.2" r="2.0" fill="#2c3035" opacity="0.34"/><circle cx="195.8" cy="2219.2" r="2.5" fill="#2c3035" opacity="0.32"/><circle cx="259.5" cy="2182.8" r="1.1" fill="#2c3035" opacity="0.30"/><circle cx="76.0" cy="2398.1" r="2.4" fill="#2c3035" opacity="0.67"/><circle cx="89.6" cy="2294.9" r="2.3" fill="#2c3035" opacity="0.59"/><circle cx="108.3" cy="2392.1" r="2.1" fill="#2c3035" opacity="0.57"/><circle cx="111.6" cy="2224.1" r="2.2" fill="#2c3035" opacity="0.51"/><circle cx="157.1" cy="2372.6" r="1.4" fill="#2c3035" opacity="0.64"/><circle cx="58.4" cy="2252.8" r="2.1" fill="#2c3035" opacity="0.30"/><circle cx="203.6" cy="2205.3" r="1.8" fill="#2c3035" opacity="0.55"/><circle cx="78.5" cy="2381.7" r="1.2" fill="#2c3035" opacity="0.35"/><circle cx="146.9" cy="2183.6" r="1.1" fill="#2c3035" opacity="0.60"/><circle cx="69.8" cy="2255.4" r="2.6" fill="#2c3035" opacity="0.48"/><circle cx="230.0" cy="2340.6" r="1.2" fill="#2c3035" opacity="0.33"/><circle cx="223.3" cy="2353.2" r="2.5" fill="#2c3035" opacity="0.59"/><circle cx="162.0" cy="2387.1" r="2.1" fill="#2c3035" opacity="0.61"/><circle cx="251.7" cy="2183.2" r="2.1" fill="#2c3035" opacity="0.53"/><circle cx="50.8" cy="2201.0" r="2.1" fill="#2c3035" opacity="0.51"/><circle cx="173.7" cy="2205.5" r="1.7" fill="#2c3035" opacity="0.65"/><circle cx="267.0" cy="2258.1" r="2.1" fill="#2c3035" opacity="0.33"/><circle cx="79.4" cy="2259.9" r="2.4" fill="#2c3035" opacity="0.35"/><circle cx="81.0" cy="2245.6" r="1.3" fill="#2c3035" opacity="0.36"/><circle cx="83.4" cy="2229.4" r="2.3" fill="#2c3035" opacity="0.37"/><circle cx="228.1" cy="2184.1" r="1.2" fill="#2c3035" opacity="0.57"/><circle cx="49.6" cy="2210.8" r="1.1" fill="#2c3035" opacity="0.39"/><circle cx="246.2" cy="2190.1" r="2.1" fill="#2c3035" opacity="0.66"/><circle cx="103.0" cy="2351.8" r="1.3" fill="#2c3035" opacity="0.61"/><circle cx="177.8" cy="2215.6" r="2.6" fill="#2c3035" opacity="0.58"/><circle cx="119.3" cy="2263.4" r="1.3" fill="#2c3035" opacity="0.41"/><circle cx="257.7" cy="2393.9" r="1.1" fill="#2c3035" opacity="0.67"/><circle cx="207.5" cy="2182.1" r="1.1" fill="#2c3035" opacity="0.47"/><circle cx="246.3" cy="2355.7" r="1.2" fill="#2c3035" opacity="0.48"/><circle cx="254.8" cy="2195.3" r="1.1" fill="#2c3035" opacity="0.47"/><circle cx="200.1" cy="2355.4" r="2.6" fill="#2c3035" opacity="0.30"/><circle cx="87.2" cy="2187.5" r="1.8" fill="#2c3035" opacity="0.46"/><circle cx="254.2" cy="2274.5" r="1.8" fill="#2c3035" opacity="0.57"/><circle cx="93.8" cy="2363.5" r="2.5" fill="#2c3035" opacity="0.63"/><circle cx="222.9" cy="2191.4" r="1.1" fill="#2c3035" opacity="0.45"/><circle cx="208.2" cy="2194.3" r="2.5" fill="#2c3035" opacity="0.64"/><circle cx="203.7" cy="2242.0" r="1.1" fill="#2c3035" opacity="0.62"/><circle cx="86.6" cy="2244.7" r="2.2" fill="#2c3035" opacity="0.55"/><circle cx="100.7" cy="2357.7" r="1.3" fill="#2c3035" opacity="0.47"/><circle cx="146.0" cy="2299.0" r="1.1" fill="#2c3035" opacity="0.56"/><circle cx="157.0" cy="2330.6" r="1.4" fill="#2c3035" opacity="0.53"/><circle cx="264.3" cy="2183.3" r="2.3" fill="#2c3035" opacity="0.49"/><circle cx="115.0" cy="2203.6" r="1.2" fill="#2c3035" opacity="0.64"/><circle cx="93.3" cy="2388.8" r="1.6" fill="#2c3035" opacity="0.41"/></g><ellipse cx="62.4" cy="2210.8" rx="3.9" ry="3.9" fill="#24282c" opacity="0.7" filter="url(#bl08)"/><ellipse cx="131.3" cy="2271.0" rx="3.8" ry="4.8" fill="#24282c" opacity="0.9" filter="url(#bl08)"/><ellipse cx="107.3" cy="2322.0" rx="5.2" ry="5.2" fill="#24282c" opacity="0.9" filter="url(#bl08)"/><ellipse cx="129.0" cy="2353.3" rx="4.8" ry="4.8" fill="#24282c" opacity="0.9" filter="url(#bl08)"/><ellipse cx="145.7" cy="2327.7" rx="4.3" ry="4.3" fill="#24282c" opacity="0.55" filter="url(#bl08)"/><ellipse cx="262.6" cy="2241.3" rx="3.1" ry="3.9" fill="#24282c" opacity="0.85" filter="url(#bl08)"/><ellipse cx="258.7" cy="2199.6" rx="3.5" ry="3.5" fill="#24282c" opacity="0.75" filter="url(#bl08)"/><ellipse cx="235.4" cy="2326.1" rx="3.0" ry="3.0" fill="#24282c" opacity="0.55" filter="url(#bl08)"/><ellipse cx="188.9" cy="2313.3" rx="2.2" ry="2.2" fill="#24282c" opacity="0.75" filter="url(#bl08)"/><ellipse cx="254.6" cy="2337.3" rx="2.2" ry="2.2" fill="#24282c" opacity="0.75" filter="url(#bl08)"/><ellipse cx="78.5" cy="2196.4" rx="2.2" ry="2.2" fill="#24282c" opacity="0.65" filter="url(#bl08)"/><ellipse cx="132.9" cy="2226.8" rx="2.6" ry="2.6" fill="#24282c" opacity="0.55" filter="url(#bl08)"/><ellipse cx="108.9" cy="2191.6" rx="2.2" ry="2.2" fill="#24282c" opacity="0.45" filter="url(#bl08)"/><ellipse cx="177.7" cy="2222.0" rx="2.2" ry="2.2" fill="#24282c" opacity="0.55" filter="url(#bl08)"/><ellipse cx="192.1" cy="2207.6" rx="1.7" ry="1.7" fill="#24282c" opacity="0.55" filter="url(#bl08)"/><ellipse cx="105.7" cy="2270.1" rx="2.2" ry="2.2" fill="#24282c" opacity="0.45" filter="url(#bl08)"/><ellipse cx="253.0" cy="2287.7" rx="2.6" ry="2.6" fill="#24282c" opacity="0.55" filter="url(#bl08)"/><ellipse cx="198.5" cy="2351.7" rx="2.2" ry="2.2" fill="#24282c" opacity="0.45" filter="url(#bl08)"/><ellipse cx="164.9" cy="2342.1" rx="1.7" ry="1.7" fill="#24282c" opacity="0.55" filter="url(#bl08)"/><ellipse cx="211.3" cy="2204.4" rx="1.7" ry="1.7" fill="#24282c" opacity="0.45" filter="url(#bl08)"/><ellipse cx="145.7" cy="2193.2" rx="1.7" ry="1.7" fill="#24282c" opacity="0.45" filter="url(#bl08)"/><ellipse cx="92.9" cy="2190.0" rx="1.7" ry="1.7" fill="#24282c" opacity="0.45" filter="url(#bl08)"/><ellipse cx="54.4" cy="2324.5" rx="1.7" ry="1.7" fill="#24282c" opacity="0.35" filter="url(#bl08)"/><ellipse cx="166.5" cy="2246.1" rx="1.7" ry="1.7" fill="#24282c" opacity="0.4" filter="url(#bl08)"/><ellipse cx="224.1" cy="2258.9" rx="1.7" ry="1.7" fill="#24282c" opacity="0.4" filter="url(#bl08)"/><ellipse cx="204.9" cy="2271.7" rx="1.7" ry="1.7" fill="#24282c" opacity="0.35" filter="url(#bl08)"/><rect x="238.6" y="2393.5" width="11" height="3.5" fill="#fff" opacity="0.8"/>
</g>
<clipPath id="mcf4"><rect x="276" y="2182" width="222.8" height="221.6"/></clipPath>
<g clip-path="url(#mcf4)" stroke="none">
<rect x="276" y="2182" width="222.8" height="221.6" filter="url(#nzf4)"/>
<g filter="url(#bl08)"><circle cx="446.2" cy="2324.9" r="1.4" fill="#2c3035" opacity="0.38"/><circle cx="426.8" cy="2396.8" r="1.4" fill="#2c3035" opacity="0.64"/><circle cx="284.0" cy="2299.0" r="1.2" fill="#2c3035" opacity="0.50"/><circle cx="412.2" cy="2371.7" r="1.6" fill="#2c3035" opacity="0.65"/><circle cx="348.8" cy="2210.5" r="1.5" fill="#2c3035" opacity="0.59"/><circle cx="433.7" cy="2190.1" r="1.2" fill="#2c3035" opacity="0.40"/><circle cx="381.1" cy="2373.0" r="1.2" fill="#2c3035" opacity="0.32"/><circle cx="476.1" cy="2374.6" r="2.2" fill="#2c3035" opacity="0.32"/><circle cx="334.1" cy="2221.2" r="2.7" fill="#2c3035" opacity="0.35"/><circle cx="304.4" cy="2230.9" r="2.3" fill="#2c3035" opacity="0.38"/><circle cx="495.1" cy="2250.3" r="1.9" fill="#2c3035" opacity="0.38"/><circle cx="341.1" cy="2373.8" r="3.0" fill="#2c3035" opacity="0.40"/><circle cx="353.9" cy="2194.7" r="1.2" fill="#2c3035" opacity="0.45"/><circle cx="392.1" cy="2308.9" r="1.3" fill="#2c3035" opacity="0.36"/><circle cx="399.8" cy="2259.3" r="1.3" fill="#2c3035" opacity="0.69"/><circle cx="406.8" cy="2185.4" r="2.8" fill="#2c3035" opacity="0.69"/><circle cx="362.9" cy="2399.1" r="1.1" fill="#2c3035" opacity="0.67"/><circle cx="313.6" cy="2373.5" r="2.0" fill="#2c3035" opacity="0.68"/><circle cx="343.3" cy="2326.9" r="2.8" fill="#2c3035" opacity="0.35"/><circle cx="317.2" cy="2305.4" r="1.1" fill="#2c3035" opacity="0.32"/><circle cx="279.5" cy="2258.9" r="1.9" fill="#2c3035" opacity="0.49"/><circle cx="410.6" cy="2187.8" r="1.1" fill="#2c3035" opacity="0.53"/><circle cx="310.9" cy="2184.8" r="1.1" fill="#2c3035" opacity="0.56"/><circle cx="489.9" cy="2292.0" r="1.1" fill="#2c3035" opacity="0.38"/><circle cx="427.8" cy="2357.7" r="1.2" fill="#2c3035" opacity="0.49"/><circle cx="284.1" cy="2301.7" r="2.2" fill="#2c3035" opacity="0.50"/><circle cx="451.0" cy="2233.9" r="1.9" fill="#2c3035" opacity="0.49"/><circle cx="410.5" cy="2198.1" r="1.5" fill="#2c3035" opacity="0.55"/><circle cx="328.2" cy="2304.8" r="1.1" fill="#2c3035" opacity="0.47"/><circle cx="485.7" cy="2325.4" r="1.6" fill="#2c3035" opacity="0.65"/><circle cx="430.5" cy="2294.8" r="1.4" fill="#2c3035" opacity="0.65"/><circle cx="401.7" cy="2290.0" r="1.4" fill="#2c3035" opacity="0.36"/><circle cx="318.4" cy="2315.5" r="1.6" fill="#2c3035" opacity="0.61"/><circle cx="376.1" cy="2267.2" r="1.7" fill="#2c3035" opacity="0.40"/><circle cx="490.2" cy="2322.8" r="1.3" fill="#2c3035" opacity="0.50"/><circle cx="463.3" cy="2392.7" r="2.0" fill="#2c3035" opacity="0.65"/><circle cx="455.7" cy="2263.4" r="1.4" fill="#2c3035" opacity="0.49"/><circle cx="287.6" cy="2313.1" r="1.7" fill="#2c3035" opacity="0.61"/><circle cx="351.7" cy="2398.6" r="2.1" fill="#2c3035" opacity="0.53"/><circle cx="326.7" cy="2389.0" r="2.0" fill="#2c3035" opacity="0.55"/><circle cx="319.2" cy="2225.9" r="1.2" fill="#2c3035" opacity="0.67"/><circle cx="374.7" cy="2337.4" r="2.0" fill="#2c3035" opacity="0.62"/><circle cx="340.4" cy="2226.7" r="2.9" fill="#2c3035" opacity="0.36"/><circle cx="498.8" cy="2269.8" r="1.1" fill="#2c3035" opacity="0.42"/><circle cx="446.8" cy="2271.8" r="1.1" fill="#2c3035" opacity="0.33"/><circle cx="287.0" cy="2308.7" r="1.4" fill="#2c3035" opacity="0.57"/><circle cx="304.0" cy="2245.0" r="1.7" fill="#2c3035" opacity="0.43"/><circle cx="430.7" cy="2239.8" r="2.2" fill="#2c3035" opacity="0.57"/><circle cx="367.9" cy="2338.1" r="1.3" fill="#2c3035" opacity="0.67"/><circle cx="441.2" cy="2245.3" r="2.5" fill="#2c3035" opacity="0.55"/><circle cx="468.5" cy="2339.3" r="2.7" fill="#2c3035" opacity="0.52"/><circle cx="352.8" cy="2344.9" r="2.7" fill="#2c3035" opacity="0.51"/><circle cx="435.6" cy="2316.0" r="1.3" fill="#2c3035" opacity="0.38"/><circle cx="414.8" cy="2219.0" r="1.5" fill="#2c3035" opacity="0.61"/><circle cx="360.9" cy="2277.9" r="2.9" fill="#2c3035" opacity="0.54"/><circle cx="396.5" cy="2224.9" r="2.2" fill="#2c3035" opacity="0.45"/><circle cx="435.6" cy="2393.3" r="2.4" fill="#2c3035" opacity="0.39"/><circle cx="482.9" cy="2329.5" r="1.2" fill="#2c3035" opacity="0.32"/><circle cx="331.2" cy="2311.5" r="1.5" fill="#2c3035" opacity="0.30"/><circle cx="487.4" cy="2196.7" r="2.4" fill="#2c3035" opacity="0.50"/><circle cx="454.0" cy="2361.5" r="2.0" fill="#2c3035" opacity="0.45"/><circle cx="391.5" cy="2227.2" r="1.2" fill="#2c3035" opacity="0.31"/><circle cx="357.3" cy="2381.8" r="2.1" fill="#2c3035" opacity="0.32"/><circle cx="352.3" cy="2278.8" r="1.6" fill="#2c3035" opacity="0.50"/><circle cx="462.6" cy="2225.5" r="1.9" fill="#2c3035" opacity="0.56"/><circle cx="279.7" cy="2215.6" r="1.1" fill="#2c3035" opacity="0.55"/><circle cx="467.3" cy="2377.4" r="2.4" fill="#2c3035" opacity="0.52"/><circle cx="414.0" cy="2329.0" r="1.3" fill="#2c3035" opacity="0.49"/><circle cx="306.1" cy="2255.5" r="1.4" fill="#2c3035" opacity="0.68"/><circle cx="322.7" cy="2290.3" r="1.1" fill="#2c3035" opacity="0.32"/><circle cx="391.0" cy="2312.9" r="1.6" fill="#2c3035" opacity="0.70"/><circle cx="382.0" cy="2320.7" r="2.6" fill="#2c3035" opacity="0.35"/><circle cx="447.5" cy="2211.4" r="2.6" fill="#2c3035" opacity="0.60"/><circle cx="450.0" cy="2372.3" r="1.1" fill="#2c3035" opacity="0.33"/><circle cx="369.1" cy="2196.5" r="2.7" fill="#2c3035" opacity="0.37"/><circle cx="327.7" cy="2342.7" r="1.1" fill="#2c3035" opacity="0.64"/><circle cx="354.4" cy="2300.7" r="2.4" fill="#2c3035" opacity="0.33"/><circle cx="332.8" cy="2266.4" r="2.1" fill="#2c3035" opacity="0.42"/><circle cx="369.9" cy="2228.0" r="1.8" fill="#2c3035" opacity="0.47"/><circle cx="420.5" cy="2183.3" r="1.7" fill="#2c3035" opacity="0.68"/><circle cx="329.4" cy="2234.5" r="2.2" fill="#2c3035" opacity="0.36"/><circle cx="389.7" cy="2272.8" r="1.2" fill="#2c3035" opacity="0.43"/><circle cx="453.9" cy="2322.1" r="1.2" fill="#2c3035" opacity="0.54"/><circle cx="497.7" cy="2216.9" r="2.1" fill="#2c3035" opacity="0.35"/><circle cx="333.7" cy="2208.9" r="1.7" fill="#2c3035" opacity="0.56"/><circle cx="434.6" cy="2313.2" r="1.8" fill="#2c3035" opacity="0.38"/><circle cx="335.0" cy="2211.7" r="2.9" fill="#2c3035" opacity="0.34"/><circle cx="465.1" cy="2267.0" r="2.5" fill="#2c3035" opacity="0.48"/><circle cx="485.9" cy="2345.6" r="2.2" fill="#2c3035" opacity="0.32"/><circle cx="426.7" cy="2188.5" r="1.8" fill="#2c3035" opacity="0.46"/><circle cx="308.7" cy="2287.0" r="1.3" fill="#2c3035" opacity="0.49"/><circle cx="413.5" cy="2207.7" r="1.5" fill="#2c3035" opacity="0.47"/><circle cx="479.0" cy="2389.9" r="1.2" fill="#2c3035" opacity="0.45"/><circle cx="378.0" cy="2252.5" r="2.8" fill="#2c3035" opacity="0.64"/><circle cx="315.6" cy="2366.2" r="2.4" fill="#2c3035" opacity="0.65"/><circle cx="368.8" cy="2185.5" r="2.0" fill="#2c3035" opacity="0.37"/><circle cx="436.2" cy="2207.5" r="1.7" fill="#2c3035" opacity="0.34"/><circle cx="407.5" cy="2233.8" r="1.1" fill="#2c3035" opacity="0.64"/><circle cx="443.6" cy="2325.3" r="1.3" fill="#2c3035" opacity="0.46"/><circle cx="402.3" cy="2231.8" r="2.0" fill="#2c3035" opacity="0.34"/><circle cx="311.9" cy="2249.1" r="1.6" fill="#2c3035" opacity="0.54"/><circle cx="434.2" cy="2309.3" r="1.5" fill="#2c3035" opacity="0.65"/><circle cx="393.7" cy="2289.8" r="1.2" fill="#2c3035" opacity="0.60"/><circle cx="287.3" cy="2360.0" r="1.9" fill="#2c3035" opacity="0.70"/><circle cx="465.1" cy="2295.7" r="2.0" fill="#2c3035" opacity="0.46"/><circle cx="342.6" cy="2388.0" r="1.4" fill="#2c3035" opacity="0.59"/><circle cx="277.8" cy="2203.0" r="2.4" fill="#2c3035" opacity="0.56"/><circle cx="442.1" cy="2316.7" r="1.1" fill="#2c3035" opacity="0.50"/><circle cx="390.9" cy="2308.5" r="2.9" fill="#2c3035" opacity="0.48"/><circle cx="432.3" cy="2327.4" r="1.1" fill="#2c3035" opacity="0.69"/><circle cx="368.5" cy="2394.7" r="2.5" fill="#2c3035" opacity="0.42"/><circle cx="409.4" cy="2326.9" r="2.1" fill="#2c3035" opacity="0.41"/><circle cx="318.4" cy="2227.2" r="1.4" fill="#2c3035" opacity="0.68"/><circle cx="369.7" cy="2326.6" r="3.0" fill="#2c3035" opacity="0.36"/><circle cx="363.9" cy="2391.8" r="1.4" fill="#2c3035" opacity="0.61"/><circle cx="449.4" cy="2398.9" r="1.1" fill="#2c3035" opacity="0.44"/><circle cx="471.4" cy="2255.6" r="1.2" fill="#2c3035" opacity="0.61"/><circle cx="321.9" cy="2329.3" r="2.3" fill="#2c3035" opacity="0.61"/><circle cx="435.0" cy="2245.7" r="1.7" fill="#2c3035" opacity="0.54"/><circle cx="337.0" cy="2353.7" r="2.6" fill="#2c3035" opacity="0.67"/></g><ellipse cx="352.2" cy="2226.8" rx="5.6" ry="5.6" fill="#24282c" opacity="0.9" filter="url(#bl08)"/><ellipse cx="403.5" cy="2223.6" rx="5.2" ry="5.2" fill="#24282c" opacity="0.9" filter="url(#bl08)"/><ellipse cx="424.3" cy="2222.0" rx="5.2" ry="5.2" fill="#24282c" opacity="0.6" filter="url(#bl08)"/><ellipse cx="395.5" cy="2198.0" rx="3.9" ry="3.9" fill="#24282c" opacity="0.85" filter="url(#bl08)"/><ellipse cx="343.3" cy="2184.6" rx="3.0" ry="3.0" fill="#24282c" opacity="0.75" filter="url(#bl08)"/><ellipse cx="457.9" cy="2271.0" rx="7.3" ry="5.2" fill="#24282c" opacity="0.55" filter="url(#bl08)"/><ellipse cx="413.1" cy="2246.1" rx="4.3" ry="4.3" fill="#24282c" opacity="0.35" filter="url(#bl08)"/><ellipse cx="409.2" cy="2346.0" rx="5.2" ry="5.2" fill="#24282c" opacity="0.6" filter="url(#bl08)"/><ellipse cx="323.4" cy="2390.2" rx="5.6" ry="5.6" fill="#24282c" opacity="0.85" filter="url(#bl08)"/><ellipse cx="494.1" cy="2385.4" rx="3.5" ry="3.5" fill="#24282c" opacity="0.85" filter="url(#bl08)"/><ellipse cx="352.2" cy="2369.3" rx="3.9" ry="3.9" fill="#24282c" opacity="0.55" filter="url(#bl08)"/><ellipse cx="318.6" cy="2359.7" rx="3.9" ry="3.9" fill="#24282c" opacity="0.45" filter="url(#bl08)"/><ellipse cx="445.1" cy="2345.3" rx="3.9" ry="3.9" fill="#24282c" opacity="0.55" filter="url(#bl08)"/><ellipse cx="472.3" cy="2331.9" rx="2.2" ry="2.2" fill="#24282c" opacity="0.75" filter="url(#bl08)"/><ellipse cx="388.4" cy="2352.7" rx="2.2" ry="2.2" fill="#24282c" opacity="0.75" filter="url(#bl08)"/><ellipse cx="375.3" cy="2307.5" rx="2.6" ry="2.6" fill="#24282c" opacity="0.65" filter="url(#bl08)"/><ellipse cx="485.1" cy="2252.5" rx="2.6" ry="2.6" fill="#24282c" opacity="0.65" filter="url(#bl08)"/><ellipse cx="488.3" cy="2262.7" rx="2.2" ry="2.2" fill="#24282c" opacity="0.65" filter="url(#bl08)"/><ellipse cx="326.6" cy="2226.8" rx="2.2" ry="2.2" fill="#24282c" opacity="0.55" filter="url(#bl08)"/><ellipse cx="369.8" cy="2361.3" rx="2.2" ry="2.2" fill="#24282c" opacity="0.65" filter="url(#bl08)"/><ellipse cx="353.8" cy="2343.7" rx="3.5" ry="3.5" fill="#24282c" opacity="0.35" filter="url(#bl08)"/><ellipse cx="384.2" cy="2376.7" rx="1.7" ry="1.7" fill="#24282c" opacity="0.65" filter="url(#bl08)"/><ellipse cx="440.3" cy="2324.5" rx="1.7" ry="1.7" fill="#24282c" opacity="0.65" filter="url(#bl08)"/><ellipse cx="328.2" cy="2315.9" rx="1.7" ry="1.7" fill="#24282c" opacity="0.65" filter="url(#bl08)"/><ellipse cx="377.8" cy="2207.6" rx="2.6" ry="2.6" fill="#24282c" opacity="0.45" filter="url(#bl08)"/><ellipse cx="462.7" cy="2289.3" rx="1.7" ry="1.7" fill="#24282c" opacity="0.55" filter="url(#bl08)"/><ellipse cx="488.3" cy="2327.7" rx="1.7" ry="1.7" fill="#24282c" opacity="0.55" filter="url(#bl08)"/><ellipse cx="286.6" cy="2366.1" rx="1.7" ry="1.7" fill="#24282c" opacity="0.45" filter="url(#bl08)"/><ellipse cx="461.1" cy="2216.6" rx="1.7" ry="1.7" fill="#24282c" opacity="0.45" filter="url(#bl08)"/>
</g>
<text transform="translate(536.8 2021.1) rotate(-90)" font-size="30.3" text-anchor="middle" textLength="238.4" lengthAdjust="spacing">Relative organoid</text>
<text transform="translate(575.6 2017.9) rotate(-90)" font-size="30.3" text-anchor="middle" textLength="173.5" lengthAdjust="spacing">size at Day 8</text>
<line x1="657.6" y1="1904.9" x2="657.6" y2="2136.7" stroke-width="4.7"/>
<line x1="655.2" y1="2134.3" x2="873.2" y2="2134.3" stroke-width="4.7"/>
<line x1="645.2" y1="1907.3" x2="657.6" y2="1907.3" stroke-width="4.7"/>
<text transform="translate(638.6 1916.9) scale(0.91 1)" font-size="32.6" text-anchor="end">2.5</text>
<line x1="645.2" y1="1952.5" x2="657.6" y2="1952.5" stroke-width="4.7"/>
<text transform="translate(638.6 1962.1) scale(0.91 1)" font-size="32.6" text-anchor="end">2.0</text>
<line x1="645.2" y1="1998.1" x2="657.6" y2="1998.1" stroke-width="4.7"/>
<text transform="translate(638.6 2007.7) scale(0.91 1)" font-size="32.6" text-anchor="end">1.5</text>
<line x1="645.2" y1="2043.5" x2="657.6" y2="2043.5" stroke-width="4.7"/>
<text transform="translate(638.6 2053.1) scale(0.91 1)" font-size="32.6" text-anchor="end">1.0</text>
<line x1="645.2" y1="2089.2" x2="657.6" y2="2089.2" stroke-width="4.7"/>
<text transform="translate(638.6 2098.8) scale(0.91 1)" font-size="32.6" text-anchor="end">0.5</text>
<line x1="645.2" y1="2134.3" x2="657.6" y2="2134.3" stroke-width="4.7"/>
<text transform="translate(638.6 2143.9) scale(0.91 1)" font-size="32.6" text-anchor="end">0.0</text>
<line x1="709.9" y1="2134.3" x2="709.9" y2="2146.8" stroke-width="5.2"/>
<text x="709.4" y="2179.0" font-size="30" text-anchor="middle" textLength="92.9" lengthAdjust="spacingAndGlyphs">Control</text>
<line x1="817.3" y1="2134.3" x2="817.3" y2="2146.8" stroke-width="5.2"/>
<text x="816.3" y="2179.0" font-size="30" text-anchor="middle" textLength="72.4" lengthAdjust="spacingAndGlyphs">ISRIB</text>
<circle cx="710.4" cy="2017.9" r="6.3" fill="none" stroke="#ee1b24" stroke-width="2"/>
<circle cx="719.9" cy="2053.5" r="6.3" fill="none" stroke="#ee1b24" stroke-width="2"/>
<circle cx="700.4" cy="2059.9" r="6.3" fill="none" stroke="#ee1b24" stroke-width="2"/>
<line x1="710.4" y1="2021.9" x2="710.4" y2="2067.1" stroke-width="4.2"/>
<line x1="692.6" y1="2021.9" x2="728.2" y2="2021.9" stroke-width="4.4"/>
<line x1="692.6" y1="2067.1" x2="728.2" y2="2067.1" stroke-width="4.4"/>
<line x1="675.0" y1="2044.5" x2="745.8" y2="2044.5" stroke-width="4.4"/>
<circle cx="806.6" cy="1951.3" r="7.0" fill="#ee1b24" stroke="none"/>
<circle cx="826.8" cy="1958.4" r="7.0" fill="#ee1b24" stroke="none"/>
<circle cx="817.3" cy="1987" r="7.0" fill="#ee1b24" stroke="none"/>
<line x1="817.3" y1="1947" x2="817.3" y2="1984.1" stroke-width="4.2"/>
<line x1="799.5" y1="1947" x2="835.1" y2="1947" stroke-width="4.4"/>
<line x1="799.5" y1="1984.1" x2="835.1" y2="1984.1" stroke-width="4.4"/>
<line x1="781.9" y1="1965.1" x2="852.7" y2="1965.1" stroke-width="4.4"/>
<text x="817.3" y="1935.9" font-size="21" text-anchor="middle">0.0096</text>
<text transform="translate(543.5 2328.2) rotate(-90)" font-size="30.3" text-anchor="middle" textLength="238.4" lengthAdjust="spacing">Relative organoid</text>
<text transform="translate(582 2324.4) rotate(-90)" font-size="30.3" text-anchor="middle" textLength="224.6" lengthAdjust="spacing">number at Day 8</text>
<line x1="638.5" y1="2210.3" x2="638.5" y2="2443.3" stroke-width="4.7"/>
<line x1="636.1" y1="2441" x2="854.6" y2="2441" stroke-width="4.7"/>
<line x1="626.1" y1="2212.6" x2="638.5" y2="2212.6" stroke-width="4.7"/>
<text transform="translate(620.4 2222.2) scale(0.91 1)" font-size="32.6" text-anchor="end">4</text>
<line x1="626.1" y1="2269.9" x2="638.5" y2="2269.9" stroke-width="4.7"/>
<text transform="translate(620.4 2279.5) scale(0.91 1)" font-size="32.6" text-anchor="end">3</text>
<line x1="626.1" y1="2326.9" x2="638.5" y2="2326.9" stroke-width="4.7"/>
<text transform="translate(620.4 2336.5) scale(0.91 1)" font-size="32.6" text-anchor="end">2</text>
<line x1="626.1" y1="2384" x2="638.5" y2="2384" stroke-width="4.7"/>
<text transform="translate(620.4 2393.6) scale(0.91 1)" font-size="32.6" text-anchor="end">1</text>
<line x1="626.1" y1="2441" x2="638.5" y2="2441" stroke-width="4.7"/>
<text transform="translate(620.4 2450.6) scale(0.91 1)" font-size="32.6" text-anchor="end">0</text>
<line x1="691.3" y1="2441" x2="691.3" y2="2453.5" stroke-width="5.2"/>
<text x="689.9" y="2485.7" font-size="30" text-anchor="middle" textLength="92.9" lengthAdjust="spacingAndGlyphs">Control</text>
<line x1="798.8" y1="2441" x2="798.8" y2="2453.5" stroke-width="5.2"/>
<text x="797.7" y="2485.7" font-size="30" text-anchor="middle" textLength="72.4" lengthAdjust="spacingAndGlyphs">ISRIB</text>
<circle cx="691.3" cy="2369.4" r="6.3" fill="none" stroke="#ee1b24" stroke-width="2"/>
<circle cx="701.6" cy="2384.4" r="6.3" fill="none" stroke="#ee1b24" stroke-width="2"/>
<circle cx="681.8" cy="2399.2" r="6.3" fill="none" stroke="#ee1b24" stroke-width="2"/>
<line x1="691.3" y1="2370.2" x2="691.3" y2="2398.2" stroke-width="4.2"/>
<line x1="673.5" y1="2370.2" x2="709.1" y2="2370.2" stroke-width="4.4"/>
<line x1="673.5" y1="2398.2" x2="709.1" y2="2398.2" stroke-width="4.4"/>
<line x1="655.9" y1="2384" x2="726.7" y2="2384" stroke-width="4.4"/>
<circle cx="798.3" cy="2269.9" r="7.2" fill="#ee1b24" stroke="none"/>
<circle cx="809" cy="2298.9" r="7.2" fill="#ee1b24" stroke="none"/>
<circle cx="788.3" cy="2312.4" r="7.2" fill="#ee1b24" stroke="none"/>
<line x1="798.8" y1="2271.5" x2="798.8" y2="2315.5" stroke-width="4.2"/>
<line x1="781.0" y1="2271.5" x2="816.6" y2="2271.5" stroke-width="4.4"/>
<line x1="781.0" y1="2315.5" x2="816.6" y2="2315.5" stroke-width="4.4"/>
<line x1="763.4" y1="2294.1" x2="834.2" y2="2294.1" stroke-width="4.4"/>
<text x="795.9" y="2251.8" font-size="21" text-anchor="middle">0.0039</text>
<text transform="translate(905 1882.6) scale(1.12 1)" font-size="72.3" font-weight="bold">g</text>
<text x="1187" y="1899.2" font-size="30" text-anchor="middle" fill="#ee1b24" textLength="144" lengthAdjust="spacingAndGlyphs">Mut/Mut***</text>
<line x1="1035.9" y1="1908.2" x2="1319.2" y2="1908.2" stroke-width="1.6"/>
<text x="1063.7" y="1945.7" font-size="30" text-anchor="middle" textLength="64" lengthAdjust="spacingAndGlyphs">siNC</text>
<text x="1284.3" y="1947.3" font-size="30" text-anchor="middle" textLength="74.3" lengthAdjust="spacingAndGlyphs">siAtf5</text>
<line x1="935.6" y1="1955.5" x2="935.6" y2="2394.3" stroke-width="1.8"/>
<text transform="translate(920.5 2294.5) rotate(-90)" font-size="32" textLength="245.5" lengthAdjust="spacingAndGlyphs">Organoid at Day 8</text>
<clipPath id="mcg1"><rect x="943.8" y="1952.9" width="222.5" height="220.9"/></clipPath>
<g clip-path="url(#mcg1)" stroke="none">
<rect x="943.8" y="1952.9" width="222.5" height="220.9" filter="url(#nzg1)"/>
<ellipse cx="1030" cy="2065" rx="30" ry="32" fill="#d6dadf" opacity="0.3" filter="url(#bl6)"/><circle cx="978.6" cy="2057.3" r="11" fill="none" stroke="#d9dde1" stroke-width="4" opacity="0.75" filter="url(#bl1)"/><ellipse cx="978" cy="2056" rx="4" ry="4" fill="#7a8087" opacity="0.6" filter="url(#bl1)"/><ellipse cx="1065" cy="2058" rx="26" ry="24" fill="#6a7077" opacity="0.42" filter="url(#bl2)"/><ellipse cx="1058" cy="2056" rx="12" ry="16" fill="#50565d" opacity="0.42" filter="url(#bl3)"/><ellipse cx="1065" cy="2058" rx="26.5" ry="24" fill="none" stroke="#50565c" stroke-width="2.2" opacity="0.8" filter="url(#bl08)"/><path d="M1078 2037 A26 24 0 0 1 1080 2078" fill="none" stroke="#e9ecef" stroke-width="2.8" opacity="0.85" filter="url(#bl1)"/><ellipse cx="1076" cy="2050" rx="6" ry="10" fill="#e3e6ea" opacity="0.35" filter="url(#bl2)"/><ellipse cx="1050.3" cy="2094.3" rx="9" ry="9" fill="#454b51" opacity="0.7" filter="url(#bl2)"/><ellipse cx="1056" cy="2100" rx="5" ry="5" fill="#454b51" opacity="0.55" filter="url(#bl2)"/><ellipse cx="1037" cy="2098" rx="5" ry="6" fill="#e3e6ea" opacity="0.6" filter="url(#bl2)"/><ellipse cx="1068" cy="2090" rx="6" ry="4" fill="#e3e6ea" opacity="0.6" filter="url(#bl2)"/><ellipse cx="1030" cy="2060" rx="5" ry="8" fill="#e3e6ea" opacity="0.35" filter="url(#bl2)"/><circle cx="955.7" cy="1968.6" r="3.3" fill="none" stroke="#d9dde1" stroke-width="1.6" opacity="0.55" filter="url(#bl05)"/><circle cx="1076.9" cy="2011.5" r="4.4" fill="none" stroke="#d9dde1" stroke-width="1.6" opacity="0.55" filter="url(#bl05)"/><circle cx="1068.7" cy="1992.3" r="3.7" fill="none" stroke="#d9dde1" stroke-width="1.6" opacity="0.55" filter="url(#bl05)"/><circle cx="1122.7" cy="1999.7" r="4.1" fill="none" stroke="#d9dde1" stroke-width="1.6" opacity="0.55" filter="url(#bl05)"/><circle cx="1022.2" cy="2116.4" r="4.1" fill="none" stroke="#d9dde1" stroke-width="1.6" opacity="0.55" filter="url(#bl05)"/><circle cx="1076.9" cy="2117.9" r="4.1" fill="none" stroke="#d9dde1" stroke-width="1.6" opacity="0.55" filter="url(#bl05)"/><circle cx="1138.9" cy="2145.2" r="3.7" fill="none" stroke="#d9dde1" stroke-width="1.6" opacity="0.55" filter="url(#bl05)"/><circle cx="1136.0" cy="2095.7" r="5.2" fill="none" stroke="#d9dde1" stroke-width="1.6" opacity="0.55" filter="url(#bl05)"/><circle cx="946.8" cy="2101.6" r="3.7" fill="none" stroke="#d9dde1" stroke-width="1.6" opacity="0.55" filter="url(#bl05)"/><circle cx="983.8" cy="2078.0" r="4.1" fill="none" stroke="#d9dde1" stroke-width="1.6" opacity="0.55" filter="url(#bl05)"/><circle cx="1121.2" cy="2075.0" r="3.7" fill="none" stroke="#d9dde1" stroke-width="1.6" opacity="0.55" filter="url(#bl05)"/><circle cx="1088.7" cy="2168.1" r="3.7" fill="none" stroke="#d9dde1" stroke-width="1.6" opacity="0.55" filter="url(#bl05)"/><circle cx="1017.8" cy="2033.7" r="3.7" fill="none" stroke="#d9dde1" stroke-width="1.6" opacity="0.55" filter="url(#bl05)"/><ellipse cx="1131.5" cy="1982.7" rx="2.4" ry="2.4" fill="#eef0f2" opacity="0.8" filter="url(#bl1)"/><ellipse cx="1152.2" cy="2052.1" rx="2.1" ry="2.1" fill="#eef0f2" opacity="0.8" filter="url(#bl1)"/><ellipse cx="946.8" cy="1996.0" rx="2.1" ry="2.1" fill="#eef0f2" opacity="0.8" filter="url(#bl1)"/><ellipse cx="1005.9" cy="2078.0" rx="1.5" ry="1.5" fill="#eef0f2" opacity="0.8" filter="url(#bl1)"/><ellipse cx="969.7" cy="2087.6" rx="1.5" ry="1.5" fill="#eef0f2" opacity="0.8" filter="url(#bl1)"/><ellipse cx="1156" cy="2142.5" rx="3" ry="3" fill="#5d6369" opacity="0.7" filter="url(#bl1)"/><rect x="1085.4" y="2156.8" width="64.2" height="5" fill="#fff"/>
</g>
<clipPath id="mcg2"><rect x="1172.7" y="1951.6" width="222.2" height="221"/></clipPath>
<g clip-path="url(#mcg2)" stroke="none">
<rect x="1172.7" y="1951.6" width="222.2" height="221" filter="url(#nzg2)"/>
<ellipse cx="1283" cy="2095" rx="22" ry="40" fill="#d6dadf" opacity="0.4" filter="url(#bl6)"/><ellipse cx="1262" cy="2008" rx="30" ry="12" fill="#d6dadf" opacity="0.35" filter="url(#bl6)"/><ellipse cx="1286" cy="2043" rx="28" ry="24" fill="#454b51" opacity="0.6" filter="url(#bl3)" transform="rotate(15 1286 2043)"/><ellipse cx="1292" cy="2040" rx="16" ry="13" fill="#33383d" opacity="0.55" filter="url(#bl4)"/><path d="M1260 2052 Q1275 2076 1314 2060" fill="none" stroke="#3f454b" stroke-width="3" opacity="0.65" filter="url(#bl1)"/><ellipse cx="1243" cy="2025" rx="15" ry="17" fill="#e9ecef" opacity="0.8" filter="url(#bl1)" transform="rotate(35 1243 2025)"/><ellipse cx="1241" cy="2024.5" rx="8" ry="10" fill="#8a9098" opacity="0.8" filter="url(#bl2)" transform="rotate(35 1241 2024.5)"/><ellipse cx="1331" cy="2042" rx="12" ry="16.5" fill="#e9ecef" opacity="0.8" filter="url(#bl1)" transform="rotate(-12 1331 2042)"/><ellipse cx="1330" cy="2039" rx="6" ry="9" fill="#8a9098" opacity="0.8" filter="url(#bl2)"/><ellipse cx="1287" cy="2129.7" rx="5" ry="5" fill="#454b51" opacity="0.7" filter="url(#bl2)"/><circle cx="1298.0" cy="1983.4" r="3.7" fill="none" stroke="#d9dde1" stroke-width="1.6" opacity="0.45" filter="url(#bl05)"/><circle cx="1317.2" cy="1981.9" r="3.7" fill="none" stroke="#d9dde1" stroke-width="1.6" opacity="0.45" filter="url(#bl05)"/><circle cx="1370.4" cy="2014.5" r="3.7" fill="none" stroke="#d9dde1" stroke-width="1.6" opacity="0.45" filter="url(#bl05)"/><circle cx="1382.2" cy="2092.8" r="5.2" fill="none" stroke="#d9dde1" stroke-width="1.6" opacity="0.45" filter="url(#bl05)"/><circle cx="1383.7" cy="2113.5" r="4.4" fill="none" stroke="#d9dde1" stroke-width="1.6" opacity="0.45" filter="url(#bl05)"/><circle cx="1326.1" cy="2114.9" r="5.9" fill="none" stroke="#d9dde1" stroke-width="1.6" opacity="0.45" filter="url(#bl05)"/><circle cx="1233.0" cy="2116.4" r="4.4" fill="none" stroke="#d9dde1" stroke-width="1.6" opacity="0.45" filter="url(#bl05)"/><circle cx="1376.3" cy="2141.5" r="3.7" fill="none" stroke="#d9dde1" stroke-width="1.6" opacity="0.45" filter="url(#bl05)"/><circle cx="1199.0" cy="2100.2" r="3.7" fill="none" stroke="#d9dde1" stroke-width="1.6" opacity="0.45" filter="url(#bl05)"/><circle cx="1361.5" cy="1999.7" r="3.7" fill="none" stroke="#d9dde1" stroke-width="1.6" opacity="0.45" filter="url(#bl05)"/><circle cx="1274.4" cy="1973.1" r="3.7" fill="none" stroke="#d9dde1" stroke-width="1.6" opacity="0.45" filter="url(#bl05)"/><ellipse cx="1198.2" cy="1985.6" rx="2.4" ry="2.4" fill="#eef0f2" opacity="0.75" filter="url(#bl1)"/><ellipse cx="1372.6" cy="1973.1" rx="2.1" ry="2.1" fill="#eef0f2" opacity="0.75" filter="url(#bl1)"/><ellipse cx="1323.9" cy="1994.5" rx="1.5" ry="1.5" fill="#eef0f2" opacity="0.75" filter="url(#bl1)"/><ellipse cx="1214.5" cy="2119.4" rx="1.8" ry="1.8" fill="#eef0f2" opacity="0.75" filter="url(#bl1)"/><ellipse cx="1323.1" cy="2140.1" rx="1.8" ry="1.8" fill="#eef0f2" opacity="0.75" filter="url(#bl1)"/><ellipse cx="1363.8" cy="2104.6" rx="1.5" ry="1.5" fill="#eef0f2" opacity="0.75" filter="url(#bl1)"/><ellipse cx="1386.7" cy="2001.2" rx="1.8" ry="1.8" fill="#eef0f2" opacity="0.75" filter="url(#bl1)"/><ellipse cx="1303.9" cy="2004.1" rx="1.8" ry="1.8" fill="#eef0f2" opacity="0.75" filter="url(#bl1)"/>
</g>
<clipPath id="mcg3"><rect x="943.6" y="2182" width="222.6" height="221.6"/></clipPath>
<g clip-path="url(#mcg3)" stroke="none">
<rect x="943.6" y="2182" width="222.6" height="221.6" filter="url(#nzg3)"/>
<ellipse cx="1060" cy="2300" rx="60" ry="60" fill="#8f959c" opacity="0.2" filter="url(#bl15)"/><g filter="url(#bl08)"><circle cx="950.6" cy="2396.7" r="1.2" fill="#2c3035" opacity="0.45"/><circle cx="1154.3" cy="2239.3" r="1.6" fill="#2c3035" opacity="0.30"/><circle cx="1034.8" cy="2357.0" r="2.4" fill="#2c3035" opacity="0.26"/><circle cx="1064.7" cy="2334.0" r="1.8" fill="#2c3035" opacity="0.23"/><circle cx="1030.7" cy="2291.2" r="2.7" fill="#2c3035" opacity="0.41"/><circle cx="1093.8" cy="2244.1" r="2.8" fill="#2c3035" opacity="0.26"/><circle cx="1018.8" cy="2216.8" r="1.8" fill="#2c3035" opacity="0.40"/><circle cx="1099.8" cy="2365.3" r="2.0" fill="#2c3035" opacity="0.36"/><circle cx="999.6" cy="2394.4" r="3.0" fill="#2c3035" opacity="0.38"/><circle cx="1165.5" cy="2377.8" r="2.6" fill="#2c3035" opacity="0.39"/><circle cx="1124.3" cy="2335.1" r="1.1" fill="#2c3035" opacity="0.41"/><circle cx="1022.0" cy="2324.6" r="2.6" fill="#2c3035" opacity="0.32"/><circle cx="1003.8" cy="2304.6" r="2.6" fill="#2c3035" opacity="0.41"/><circle cx="1164.8" cy="2383.2" r="2.3" fill="#2c3035" opacity="0.32"/><circle cx="984.3" cy="2388.7" r="1.1" fill="#2c3035" opacity="0.44"/><circle cx="1085.9" cy="2234.3" r="1.2" fill="#2c3035" opacity="0.38"/><circle cx="959.7" cy="2277.5" r="1.1" fill="#2c3035" opacity="0.23"/><circle cx="999.6" cy="2326.6" r="1.1" fill="#2c3035" opacity="0.41"/><circle cx="1083.9" cy="2239.2" r="2.1" fill="#2c3035" opacity="0.22"/><circle cx="1000.0" cy="2293.7" r="2.5" fill="#2c3035" opacity="0.37"/><circle cx="952.4" cy="2394.5" r="1.1" fill="#2c3035" opacity="0.25"/><circle cx="1072.2" cy="2197.6" r="1.4" fill="#2c3035" opacity="0.25"/><circle cx="1043.9" cy="2259.4" r="1.4" fill="#2c3035" opacity="0.28"/><circle cx="1050.4" cy="2327.6" r="1.4" fill="#2c3035" opacity="0.33"/><circle cx="1009.6" cy="2270.1" r="1.1" fill="#2c3035" opacity="0.31"/><circle cx="1055.8" cy="2217.3" r="1.3" fill="#2c3035" opacity="0.34"/><circle cx="1051.8" cy="2321.8" r="1.2" fill="#2c3035" opacity="0.40"/><circle cx="976.7" cy="2385.7" r="1.3" fill="#2c3035" opacity="0.27"/><circle cx="1018.4" cy="2391.8" r="2.0" fill="#2c3035" opacity="0.44"/><circle cx="1164.2" cy="2284.9" r="2.3" fill="#2c3035" opacity="0.21"/><circle cx="1124.5" cy="2238.7" r="1.3" fill="#2c3035" opacity="0.37"/><circle cx="1056.8" cy="2304.3" r="1.3" fill="#2c3035" opacity="0.30"/><circle cx="1148.3" cy="2187.8" r="1.1" fill="#2c3035" opacity="0.36"/><circle cx="962.0" cy="2238.8" r="1.2" fill="#2c3035" opacity="0.21"/><circle cx="1030.4" cy="2397.7" r="2.5" fill="#2c3035" opacity="0.21"/><circle cx="1163.8" cy="2382.0" r="2.5" fill="#2c3035" opacity="0.24"/><circle cx="1014.3" cy="2217.6" r="2.1" fill="#2c3035" opacity="0.38"/><circle cx="1005.1" cy="2394.6" r="2.1" fill="#2c3035" opacity="0.38"/><circle cx="1037.9" cy="2371.9" r="1.7" fill="#2c3035" opacity="0.39"/><circle cx="1147.1" cy="2197.7" r="1.1" fill="#2c3035" opacity="0.26"/><circle cx="1148.9" cy="2254.9" r="1.4" fill="#2c3035" opacity="0.34"/><circle cx="1065.6" cy="2281.6" r="2.4" fill="#2c3035" opacity="0.32"/><circle cx="1114.0" cy="2212.1" r="2.2" fill="#2c3035" opacity="0.32"/><circle cx="1056.6" cy="2211.9" r="2.5" fill="#2c3035" opacity="0.24"/><circle cx="1113.6" cy="2297.6" r="1.1" fill="#2c3035" opacity="0.44"/><circle cx="1110.2" cy="2204.4" r="1.2" fill="#2c3035" opacity="0.43"/><circle cx="1044.6" cy="2308.1" r="1.4" fill="#2c3035" opacity="0.20"/><circle cx="960.4" cy="2241.7" r="1.1" fill="#2c3035" opacity="0.30"/><circle cx="1030.7" cy="2351.1" r="1.1" fill="#2c3035" opacity="0.37"/><circle cx="999.2" cy="2320.8" r="1.3" fill="#2c3035" opacity="0.22"/><circle cx="1104.0" cy="2197.2" r="2.4" fill="#2c3035" opacity="0.28"/><circle cx="968.8" cy="2313.0" r="2.0" fill="#2c3035" opacity="0.45"/><circle cx="991.5" cy="2203.6" r="2.7" fill="#2c3035" opacity="0.27"/><circle cx="1082.6" cy="2307.3" r="2.9" fill="#2c3035" opacity="0.35"/><circle cx="1124.2" cy="2223.2" r="2.3" fill="#2c3035" opacity="0.32"/><circle cx="1113.5" cy="2323.0" r="1.1" fill="#2c3035" opacity="0.30"/><circle cx="1080.1" cy="2223.9" r="1.3" fill="#2c3035" opacity="0.27"/><circle cx="1045.9" cy="2376.6" r="2.8" fill="#2c3035" opacity="0.36"/><circle cx="1093.8" cy="2389.6" r="2.5" fill="#2c3035" opacity="0.34"/><circle cx="951.7" cy="2258.7" r="1.2" fill="#2c3035" opacity="0.35"/></g><ellipse cx="975.7" cy="2266.9" rx="3.9" ry="3.9" fill="#24282c" opacity="0.85" filter="url(#bl08)"/><ellipse cx="977.3" cy="2295.7" rx="3.9" ry="3.9" fill="#24282c" opacity="0.85" filter="url(#bl08)"/><ellipse cx="973.1" cy="2290.9" rx="2.2" ry="2.2" fill="#24282c" opacity="0.6" filter="url(#bl08)"/><ellipse cx="1088.4" cy="2330.0" rx="2.2" ry="2.2" fill="#24282c" opacity="0.8" filter="url(#bl08)"/><ellipse cx="1131.0" cy="2223.0" rx="3.0" ry="3.0" fill="#24282c" opacity="0.5" filter="url(#bl08)"/><ellipse cx="1095.7" cy="2261.4" rx="2.6" ry="2.6" fill="#24282c" opacity="0.45" filter="url(#bl08)"/><ellipse cx="1082.9" cy="2244.5" rx="2.2" ry="2.2" fill="#24282c" opacity="0.5" filter="url(#bl08)"/><ellipse cx="1030.1" cy="2204.4" rx="1.3" ry="2.2" fill="#24282c" opacity="0.55" filter="url(#bl08)"/><ellipse cx="1088.7" cy="2207.0" rx="1.7" ry="1.7" fill="#24282c" opacity="0.6" filter="url(#bl08)"/><ellipse cx="1149.2" cy="2291.9" rx="1.7" ry="1.7" fill="#24282c" opacity="0.6" filter="url(#bl08)"/><ellipse cx="1042.9" cy="2352.4" rx="1.7" ry="1.7" fill="#24282c" opacity="0.5" filter="url(#bl08)"/><ellipse cx="1132.6" cy="2241.3" rx="1.3" ry="2.2" fill="#24282c" opacity="0.4" filter="url(#bl08)"/><ellipse cx="1015.7" cy="2303.7" rx="1.7" ry="1.7" fill="#24282c" opacity="0.4" filter="url(#bl08)"/><ellipse cx="1038.1" cy="2223.6" rx="2.6" ry="2.6" fill="#24282c" opacity="0.3" filter="url(#bl08)"/><ellipse cx="983.7" cy="2191.6" rx="2.2" ry="2.2" fill="#24282c" opacity="0.3" filter="url(#bl08)"/><ellipse cx="948.4" cy="2188.4" rx="1.7" ry="1.7" fill="#24282c" opacity="0.3" filter="url(#bl08)"/><ellipse cx="1090.9" cy="2223.6" rx="1.3" ry="1.3" fill="#24282c" opacity="0.4" filter="url(#bl08)"/><ellipse cx="1163.9" cy="2322.9" rx="2.6" ry="2.6" fill="#24282c" opacity="0.4" filter="url(#bl08)"/><ellipse cx="1151.8" cy="2391.8" rx="1.7" ry="1.7" fill="#24282c" opacity="0.4" filter="url(#bl08)"/><circle cx="973.1" cy="2291.5" r="5" fill="none" stroke="#4a4f55" stroke-width="1" opacity="0.7"/><rect x="1134.8" y="2391.1" width="11.2" height="4.5" fill="#fff"/><rect x="1069.5" y="2360" width="2" height="5.5" fill="#fff" opacity="0.85"/>
</g>
<clipPath id="mcg4"><rect x="1173.3" y="2179.8" width="222.3" height="221.6"/></clipPath>
<g clip-path="url(#mcg4)" stroke="none">
<rect x="1173.3" y="2179.8" width="222.3" height="221.6" filter="url(#nzg4)"/>
<rect x="1172" y="2179" width="225" height="224" fill="url(#gg4)"/><g filter="url(#bl08)"><circle cx="1192.7" cy="2269.7" r="1.1" fill="#2c3035" opacity="0.23"/><circle cx="1306.0" cy="2253.5" r="1.4" fill="#2c3035" opacity="0.23"/><circle cx="1369.5" cy="2327.8" r="1.5" fill="#2c3035" opacity="0.36"/><circle cx="1213.1" cy="2309.6" r="2.2" fill="#2c3035" opacity="0.26"/><circle cx="1204.7" cy="2291.9" r="1.1" fill="#2c3035" opacity="0.32"/><circle cx="1232.7" cy="2190.0" r="1.3" fill="#2c3035" opacity="0.44"/><circle cx="1294.7" cy="2225.9" r="1.1" fill="#2c3035" opacity="0.23"/><circle cx="1393.4" cy="2348.7" r="1.8" fill="#2c3035" opacity="0.36"/><circle cx="1362.5" cy="2204.3" r="2.3" fill="#2c3035" opacity="0.45"/><circle cx="1239.1" cy="2341.7" r="1.3" fill="#2c3035" opacity="0.40"/><circle cx="1229.3" cy="2223.4" r="2.9" fill="#2c3035" opacity="0.26"/><circle cx="1226.6" cy="2237.0" r="1.6" fill="#2c3035" opacity="0.26"/><circle cx="1182.8" cy="2258.3" r="1.5" fill="#2c3035" opacity="0.20"/><circle cx="1392.5" cy="2205.0" r="1.6" fill="#2c3035" opacity="0.49"/><circle cx="1349.4" cy="2376.7" r="2.8" fill="#2c3035" opacity="0.40"/><circle cx="1295.9" cy="2305.8" r="1.3" fill="#2c3035" opacity="0.48"/><circle cx="1277.4" cy="2337.4" r="1.2" fill="#2c3035" opacity="0.23"/><circle cx="1295.9" cy="2397.2" r="1.4" fill="#2c3035" opacity="0.28"/><circle cx="1264.1" cy="2397.1" r="1.2" fill="#2c3035" opacity="0.32"/><circle cx="1327.6" cy="2235.5" r="1.5" fill="#2c3035" opacity="0.26"/><circle cx="1354.7" cy="2201.0" r="1.1" fill="#2c3035" opacity="0.32"/><circle cx="1342.3" cy="2355.5" r="2.7" fill="#2c3035" opacity="0.33"/><circle cx="1197.7" cy="2293.8" r="2.2" fill="#2c3035" opacity="0.34"/><circle cx="1324.2" cy="2283.9" r="1.6" fill="#2c3035" opacity="0.47"/><circle cx="1259.8" cy="2296.2" r="1.5" fill="#2c3035" opacity="0.49"/><circle cx="1376.5" cy="2260.5" r="1.5" fill="#2c3035" opacity="0.31"/><circle cx="1197.4" cy="2273.5" r="1.8" fill="#2c3035" opacity="0.31"/><circle cx="1287.2" cy="2213.1" r="2.7" fill="#2c3035" opacity="0.41"/><circle cx="1176.5" cy="2247.5" r="2.1" fill="#2c3035" opacity="0.47"/><circle cx="1303.5" cy="2197.0" r="1.6" fill="#2c3035" opacity="0.21"/><circle cx="1204.8" cy="2235.1" r="1.9" fill="#2c3035" opacity="0.30"/><circle cx="1200.7" cy="2288.2" r="2.1" fill="#2c3035" opacity="0.27"/><circle cx="1349.3" cy="2180.8" r="1.6" fill="#2c3035" opacity="0.20"/><circle cx="1331.3" cy="2229.8" r="2.7" fill="#2c3035" opacity="0.44"/><circle cx="1261.0" cy="2183.6" r="1.1" fill="#2c3035" opacity="0.49"/><circle cx="1280.9" cy="2368.7" r="2.7" fill="#2c3035" opacity="0.28"/><circle cx="1324.6" cy="2298.4" r="1.7" fill="#2c3035" opacity="0.31"/><circle cx="1267.8" cy="2396.9" r="2.1" fill="#2c3035" opacity="0.35"/><circle cx="1263.8" cy="2270.6" r="1.5" fill="#2c3035" opacity="0.40"/><circle cx="1311.4" cy="2347.2" r="2.3" fill="#2c3035" opacity="0.25"/><circle cx="1340.0" cy="2311.0" r="1.5" fill="#2c3035" opacity="0.43"/><circle cx="1392.2" cy="2310.2" r="1.2" fill="#2c3035" opacity="0.23"/><circle cx="1305.4" cy="2228.5" r="1.7" fill="#2c3035" opacity="0.49"/><circle cx="1366.8" cy="2213.9" r="1.2" fill="#2c3035" opacity="0.38"/><circle cx="1207.6" cy="2214.2" r="1.2" fill="#2c3035" opacity="0.35"/><circle cx="1286.0" cy="2234.0" r="1.1" fill="#2c3035" opacity="0.37"/><circle cx="1211.6" cy="2238.9" r="2.7" fill="#2c3035" opacity="0.50"/><circle cx="1176.4" cy="2365.8" r="2.0" fill="#2c3035" opacity="0.49"/><circle cx="1327.6" cy="2249.0" r="1.6" fill="#2c3035" opacity="0.36"/><circle cx="1331.9" cy="2287.5" r="1.7" fill="#2c3035" opacity="0.45"/><circle cx="1317.7" cy="2307.3" r="2.5" fill="#2c3035" opacity="0.33"/><circle cx="1232.5" cy="2211.2" r="1.7" fill="#2c3035" opacity="0.29"/><circle cx="1350.2" cy="2284.5" r="1.1" fill="#2c3035" opacity="0.32"/><circle cx="1317.1" cy="2362.1" r="2.0" fill="#2c3035" opacity="0.23"/><circle cx="1339.0" cy="2317.5" r="2.2" fill="#2c3035" opacity="0.35"/><circle cx="1386.2" cy="2302.1" r="1.6" fill="#2c3035" opacity="0.49"/><circle cx="1300.2" cy="2340.0" r="2.1" fill="#2c3035" opacity="0.47"/><circle cx="1337.0" cy="2237.4" r="1.3" fill="#2c3035" opacity="0.27"/><circle cx="1316.4" cy="2351.0" r="2.7" fill="#2c3035" opacity="0.31"/><circle cx="1357.1" cy="2322.0" r="1.1" fill="#2c3035" opacity="0.41"/><circle cx="1393.7" cy="2189.0" r="2.3" fill="#2c3035" opacity="0.32"/><circle cx="1313.4" cy="2196.8" r="2.3" fill="#2c3035" opacity="0.40"/><circle cx="1213.7" cy="2279.2" r="2.5" fill="#2c3035" opacity="0.38"/><circle cx="1254.2" cy="2226.7" r="2.9" fill="#2c3035" opacity="0.20"/><circle cx="1391.0" cy="2324.4" r="1.3" fill="#2c3035" opacity="0.27"/><circle cx="1281.9" cy="2348.5" r="1.2" fill="#2c3035" opacity="0.25"/><circle cx="1384.0" cy="2187.5" r="1.7" fill="#2c3035" opacity="0.46"/><circle cx="1249.2" cy="2316.4" r="1.1" fill="#2c3035" opacity="0.23"/><circle cx="1362.1" cy="2314.6" r="1.5" fill="#2c3035" opacity="0.29"/><circle cx="1354.4" cy="2291.2" r="1.5" fill="#2c3035" opacity="0.43"/></g><ellipse cx="1372.1" cy="2201.2" rx="4.3" ry="4.3" fill="#24282c" opacity="0.9" filter="url(#bl08)"/><ellipse cx="1347.1" cy="2209.2" rx="5.5" ry="3.9" fill="#24282c" opacity="0.65" filter="url(#bl08)"/><ellipse cx="1337.5" cy="2326.8" rx="5.6" ry="5.6" fill="#24282c" opacity="0.9" filter="url(#bl08)"/><ellipse cx="1223.8" cy="2346.9" rx="4.8" ry="4.8" fill="#24282c" opacity="0.85" filter="url(#bl08)"/><ellipse cx="1216.5" cy="2385.4" rx="5.2" ry="5.2" fill="#24282c" opacity="0.9" filter="url(#bl08)"/><ellipse cx="1381.7" cy="2314.9" rx="3.5" ry="3.5" fill="#24282c" opacity="0.75" filter="url(#bl08)"/><ellipse cx="1183.8" cy="2302.1" rx="3.9" ry="3.9" fill="#24282c" opacity="0.75" filter="url(#bl08)"/><ellipse cx="1177.4" cy="2297.9" rx="2.6" ry="2.6" fill="#24282c" opacity="0.65" filter="url(#bl08)"/><ellipse cx="1204.6" cy="2271.0" rx="3.5" ry="3.5" fill="#24282c" opacity="0.35" filter="url(#bl08)"/><ellipse cx="1303.9" cy="2298.9" rx="3.9" ry="3.9" fill="#24282c" opacity="0.25" filter="url(#bl08)"/><ellipse cx="1383.0" cy="2255.7" rx="2.6" ry="2.6" fill="#24282c" opacity="0.4" filter="url(#bl08)"/><ellipse cx="1379.1" cy="2281.3" rx="2.2" ry="2.2" fill="#24282c" opacity="0.4" filter="url(#bl08)"/><ellipse cx="1340.7" cy="2346.9" rx="2.6" ry="2.6" fill="#24282c" opacity="0.4" filter="url(#bl08)"/><ellipse cx="1203.0" cy="2358.1" rx="2.2" ry="2.2" fill="#24282c" opacity="0.5" filter="url(#bl08)"/><ellipse cx="1231.8" cy="2396.6" rx="2.2" ry="2.2" fill="#24282c" opacity="0.5" filter="url(#bl08)"/><ellipse cx="1286.3" cy="2398.2" rx="2.2" ry="2.2" fill="#24282c" opacity="0.4" filter="url(#bl08)"/><ellipse cx="1321.5" cy="2381.2" rx="2.6" ry="2.6" fill="#24282c" opacity="0.3" filter="url(#bl08)"/><ellipse cx="1355.1" cy="2379.9" rx="2.2" ry="2.2" fill="#24282c" opacity="0.4" filter="url(#bl08)"/><ellipse cx="1277.3" cy="2378.9" rx="2.2" ry="2.2" fill="#24282c" opacity="0.3" filter="url(#bl08)"/><ellipse cx="1239.8" cy="2374.1" rx="1.7" ry="1.7" fill="#24282c" opacity="0.4" filter="url(#bl08)"/><ellipse cx="1383.9" cy="2223.6" rx="1.7" ry="1.7" fill="#24282c" opacity="0.4" filter="url(#bl08)"/><ellipse cx="1310.3" cy="2329.3" rx="2.2" ry="2.2" fill="#24282c" opacity="0.3" filter="url(#bl08)"/><ellipse cx="1257.4" cy="2350.1" rx="1.7" ry="1.7" fill="#24282c" opacity="0.3" filter="url(#bl08)"/><circle cx="1204.6" cy="2271.0" r="4" fill="none" stroke="#4a4f55" stroke-width="1.2" opacity="0.7"/>
</g>
<text transform="translate(1445.8 2007.2) rotate(-90)" font-size="30.3" text-anchor="middle" textLength="237" lengthAdjust="spacing">Relative organoid</text>
<text transform="translate(1484.3 2004.3) rotate(-90)" font-size="30.3" text-anchor="middle" textLength="171.8" lengthAdjust="spacing">size at Day 8</text>
<line x1="1568" y1="1882.9" x2="1568" y2="2129.8" stroke-width="4.7"/>
<line x1="1565.7" y1="2127.5" x2="1772" y2="2127.5" stroke-width="4.7"/>
<line x1="1555.6" y1="1885.2" x2="1568" y2="1885.2" stroke-width="4.7"/>
<text transform="translate(1549.6 1894.7) scale(0.934 1)" font-size="32.3" text-anchor="end">2.5</text>
<line x1="1555.6" y1="1933.8" x2="1568" y2="1933.8" stroke-width="4.7"/>
<text transform="translate(1549.6 1943.3) scale(0.934 1)" font-size="32.3" text-anchor="end">2.0</text>
<line x1="1555.6" y1="1982.5" x2="1568" y2="1982.5" stroke-width="4.7"/>
<text transform="translate(1549.6 1992.0) scale(0.934 1)" font-size="32.3" text-anchor="end">1.5</text>
<line x1="1555.6" y1="2030.6" x2="1568" y2="2030.6" stroke-width="4.7"/>
<text transform="translate(1549.6 2040.1) scale(0.934 1)" font-size="32.3" text-anchor="end">1.0</text>
<line x1="1555.6" y1="2079.4" x2="1568" y2="2079.4" stroke-width="4.7"/>
<text transform="translate(1549.6 2088.9) scale(0.934 1)" font-size="32.3" text-anchor="end">0.5</text>
<line x1="1555.6" y1="2127.5" x2="1568" y2="2127.5" stroke-width="4.7"/>
<text transform="translate(1549.6 2137.0) scale(0.934 1)" font-size="32.3" text-anchor="end">0.0</text>
<line x1="1617.1" y1="2127.5" x2="1617.1" y2="2140.0" stroke-width="5.2"/>
<text x="1615.9" y="2169.9" font-size="30" text-anchor="middle" textLength="65.2" lengthAdjust="spacingAndGlyphs">siNC</text>
<line x1="1718.4" y1="2127.5" x2="1718.4" y2="2139.4" stroke-width="5.2"/>
<text x="1678.6" y="2169.9" font-size="30" textLength="80" lengthAdjust="spacingAndGlyphs">si<tspan font-style="italic">Atf5</tspan></text>
<circle cx="1597.4" cy="2025.4" r="6.3" fill="none" stroke="#ee1b24" stroke-width="2"/>
<circle cx="1637.1" cy="2027.2" r="6.3" fill="none" stroke="#ee1b24" stroke-width="2"/>
<circle cx="1616.4" cy="2039.1" r="6.3" fill="none" stroke="#ee1b24" stroke-width="2"/>
<line x1="1616.9" y1="2023.8" x2="1616.9" y2="2038" stroke-width="4.2"/>
<line x1="1600.3" y1="2023.8" x2="1633.5" y2="2023.8" stroke-width="4.4"/>
<line x1="1600.3" y1="2038" x2="1633.5" y2="2038" stroke-width="4.4"/>
<line x1="1583.1" y1="2030.6" x2="1650.7" y2="2030.6" stroke-width="4.4"/>
<circle cx="1718.4" cy="1934.4" r="7.0" fill="#ee1b24" stroke="none"/>
<circle cx="1708.5" cy="1965.4" r="7.0" fill="#ee1b24" stroke="none"/>
<circle cx="1728" cy="1960.8" r="7.0" fill="#ee1b24" stroke="none"/>
<line x1="1718.4" y1="1936.3" x2="1718.4" y2="1969.9" stroke-width="4.2"/>
<line x1="1701.8" y1="1936.3" x2="1735.0" y2="1936.3" stroke-width="4.4"/>
<line x1="1701.8" y1="1969.9" x2="1735.0" y2="1969.9" stroke-width="4.4"/>
<line x1="1684.6" y1="1953.2" x2="1752.2" y2="1953.2" stroke-width="4.4"/>
<text x="1716.5" y="1919.6" font-size="21" text-anchor="middle">0.0018</text>
<text transform="translate(1447 2330) rotate(-90)" font-size="30.3" text-anchor="middle" textLength="238.2" lengthAdjust="spacing">Relative organoid</text>
<text transform="translate(1485.2 2326.6) rotate(-90)" font-size="30.3" text-anchor="middle" textLength="224.4" lengthAdjust="spacing">number at Day 8</text>
<line x1="1568" y1="2211.6" x2="1568" y2="2448.0" stroke-width="4.7"/>
<line x1="1565.7" y1="2445.7" x2="1772" y2="2445.7" stroke-width="4.7"/>
<line x1="1555.6" y1="2213.9" x2="1568" y2="2213.9" stroke-width="4.7"/>
<text transform="translate(1549.6 2223.3) scale(0.934 1)" font-size="32.3" text-anchor="end">2.5</text>
<line x1="1555.6" y1="2260.6" x2="1568" y2="2260.6" stroke-width="4.7"/>
<text transform="translate(1549.6 2270.0) scale(0.934 1)" font-size="32.3" text-anchor="end">2.0</text>
<line x1="1555.6" y1="2306.7" x2="1568" y2="2306.7" stroke-width="4.7"/>
<text transform="translate(1549.6 2316.1) scale(0.934 1)" font-size="32.3" text-anchor="end">1.5</text>
<line x1="1555.6" y1="2353.4" x2="1568" y2="2353.4" stroke-width="4.7"/>
<text transform="translate(1549.6 2362.8) scale(0.934 1)" font-size="32.3" text-anchor="end">1.0</text>
<line x1="1555.6" y1="2399.9" x2="1568" y2="2399.9" stroke-width="4.7"/>
<text transform="translate(1549.6 2409.3) scale(0.934 1)" font-size="32.3" text-anchor="end">0.5</text>
<line x1="1555.6" y1="2445.7" x2="1568" y2="2445.7" stroke-width="4.7"/>
<text transform="translate(1549.6 2455.1) scale(0.934 1)" font-size="32.3" text-anchor="end">0.0</text>
<line x1="1617.1" y1="2445.7" x2="1617.1" y2="2458.2" stroke-width="5.2"/>
<text x="1617.6" y="2490.4" font-size="30" text-anchor="middle" textLength="64.2" lengthAdjust="spacingAndGlyphs">siNC</text>
<line x1="1716.5" y1="2445.7" x2="1716.5" y2="2457.6" stroke-width="5.2"/>
<text x="1677.7" y="2490.4" font-size="30" textLength="79.8" lengthAdjust="spacingAndGlyphs">si<tspan font-style="italic">Atf5</tspan></text>
<circle cx="1617.1" cy="2333.9" r="6.3" fill="none" stroke="#ee1b24" stroke-width="2"/>
<circle cx="1607.3" cy="2362.5" r="6.3" fill="none" stroke="#ee1b24" stroke-width="2"/>
<circle cx="1626.8" cy="2362.5" r="6.3" fill="none" stroke="#ee1b24" stroke-width="2"/>
<line x1="1617.1" y1="2337.4" x2="1617.1" y2="2369" stroke-width="4.2"/>
<line x1="1600.5" y1="2337.4" x2="1633.7" y2="2337.4" stroke-width="4.4"/>
<line x1="1600.5" y1="2369" x2="1633.7" y2="2369" stroke-width="4.4"/>
<line x1="1583.3" y1="2353.4" x2="1650.9" y2="2353.4" stroke-width="4.4"/>
<circle cx="1716.5" cy="2250.5" r="7.0" fill="#ee1b24" stroke="none"/>
<circle cx="1716.5" cy="2279.6" r="7.0" fill="#ee1b24" stroke="none"/>
<circle cx="1716.5" cy="2307.6" r="7.0" fill="#ee1b24" stroke="none"/>
<line x1="1716.5" y1="2251.5" x2="1716.5" y2="2306.7" stroke-width="4.2"/>
<line x1="1699.9" y1="2251.5" x2="1733.1" y2="2251.5" stroke-width="4.4"/>
<line x1="1699.9" y1="2306.7" x2="1733.1" y2="2306.7" stroke-width="4.4"/>
<line x1="1682.7" y1="2278.9" x2="1750.3" y2="2278.9" stroke-width="4.4"/>
<text x="1712.6" y="2232.2" font-size="21" text-anchor="middle">0.0161</text>
</svg>
</body></html>
